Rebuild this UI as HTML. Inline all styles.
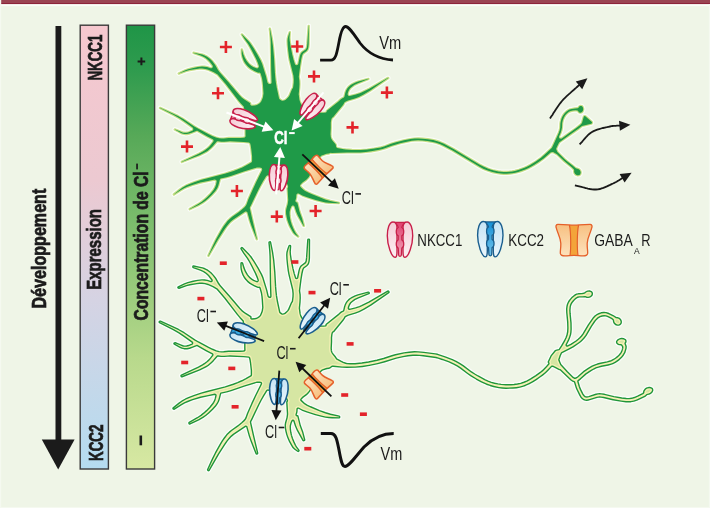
<!DOCTYPE html>
<html><head><meta charset="utf-8"><style>
html,body{margin:0;padding:0;background:#eff5e7;}
body{width:710px;height:508px;overflow:hidden;position:relative;font-family:"Liberation Sans",sans-serif;}
svg{position:absolute;left:0;top:0;will-change:transform;}
</style></head><body>
<svg width="710" height="508" viewBox="0 0 710 508">
<g opacity="0.999"><defs>
<linearGradient id="nk_g" x1="0" y1="0" x2="0" y2="1"><stop offset="0" stop-color="#f5ccd6"/><stop offset="1" stop-color="#fdf0f3"/></linearGradient>
<linearGradient id="kc_g" x1="0" y1="0" x2="0" y2="1"><stop offset="0" stop-color="#c6e4f5"/><stop offset="1" stop-color="#eaf6fc"/></linearGradient>
<linearGradient id="nk_c" x1="0" y1="0" x2="0" y2="1"><stop offset="0" stop-color="#e0416f"/><stop offset="1" stop-color="#f3a6bd"/></linearGradient>
<linearGradient id="kc_c" x1="0" y1="0" x2="0" y2="1"><stop offset="0" stop-color="#1590d6"/><stop offset="1" stop-color="#72c3ec"/></linearGradient>
<linearGradient id="nk_cN" x1="0" y1="0" x2="0" y2="1"><stop offset="0" stop-color="#f3b8c8"/><stop offset="1" stop-color="#f9dde5"/></linearGradient>
<linearGradient id="kc_cN" x1="0" y1="0" x2="0" y2="1"><stop offset="0" stop-color="#2aa6e6"/><stop offset="1" stop-color="#5cc0ef"/></linearGradient>
<linearGradient id="gab_g" gradientUnits="userSpaceOnUse" x1="0" y1="-16" x2="0" y2="16"><stop offset="0" stop-color="#f7c081"/><stop offset="1" stop-color="#fde2bd"/></linearGradient>
<linearGradient id="bar1" x1="0" y1="0" x2="0" y2="1"><stop offset="0" stop-color="#f6c8cf"/><stop offset="0.35" stop-color="#ecc9d1"/><stop offset="0.62" stop-color="#d5d3e3"/><stop offset="1" stop-color="#b4dcf0"/></linearGradient>
<linearGradient id="bar2" x1="0" y1="0" x2="0" y2="1"><stop offset="0" stop-color="#1f9547"/><stop offset="0.1" stop-color="#2f9b4e"/><stop offset="0.25" stop-color="#57a958"/><stop offset="0.5" stop-color="#86c272"/><stop offset="0.75" stop-color="#b8d98c"/><stop offset="1" stop-color="#d7e8a3"/></linearGradient>
<g id="nk"><path d="M-7,-17.8C-10.8,-17.8-12.7,-11-12.7,-4C-12.7,5-8.5,17.6-4.8,17.6C-3.4,17.6-3,15-3,12L-3,-12C-3,-15.5-3.6,-17.8-7,-17.8Z" fill="url(#nk_g)" stroke="#c8204a" stroke-width="1.40"/><path d="M-7,-17.8C-10.8,-17.8-12.7,-11-12.7,-4C-12.7,5-8.5,17.6-4.8,17.6C-3.4,17.6-3,15-3,12L-3,-12C-3,-15.5-3.6,-17.8-7,-17.8Z" transform="scale(-1,1)" fill="url(#nk_g)" stroke="#c8204a" stroke-width="1.40"/><path d="M-4.8,-17.4L4.8,-17.4C3,-15 1.8,-13.5 1.8,-12.3C4.4,-11.3 4.4,-5 1.8,-4C1.8,-2 1.8,-1 1.8,0C4.4,1 4.4,7.3 1.8,8.3L1.4,15C1.4,17-1.4,17-1.4,15L-1.8,8.3C-4.4,7.3-4.4,1-1.8,0C-1.8,-1-1.8,-2-1.8,-4C-4.4,-5-4.4,-11.3-1.8,-12.3C-1.8,-13.5-3,-15-4.8,-17.4Z" fill="url(#nk_c)" stroke="#c8204a" stroke-width="1.26"/></g><g id="kc"><path d="M-7,-17.8C-10.8,-17.8-12.7,-11-12.7,-4C-12.7,5-8.5,17.6-4.8,17.6C-3.4,17.6-3,15-3,12L-3,-12C-3,-15.5-3.6,-17.8-7,-17.8Z" fill="url(#kc_g)" stroke="#1a5e8e" stroke-width="1.40"/><path d="M-7,-17.8C-10.8,-17.8-12.7,-11-12.7,-4C-12.7,5-8.5,17.6-4.8,17.6C-3.4,17.6-3,15-3,12L-3,-12C-3,-15.5-3.6,-17.8-7,-17.8Z" transform="scale(-1,1)" fill="url(#kc_g)" stroke="#1a5e8e" stroke-width="1.40"/><path d="M-4.8,-17.4L4.8,-17.4C3,-15 1.8,-13.5 1.8,-12.3C4.4,-11.3 4.4,-5 1.8,-4C1.8,-2 1.8,-1 1.8,0C4.4,1 4.4,7.3 1.8,8.3L1.4,15C1.4,17-1.4,17-1.4,15L-1.8,8.3C-4.4,7.3-4.4,1-1.8,0C-1.8,-1-1.8,-2-1.8,-4C-4.4,-5-4.4,-11.3-1.8,-12.3C-1.8,-13.5-3,-15-4.8,-17.4Z" fill="url(#kc_c)" stroke="#1a5e8e" stroke-width="1.26"/></g><clipPath id="ga_clip"><path d="M-16,-15.8C-10,-15.8-5,-15.2 0,-15C5,-15.2 10,-15.8 16,-15.8C18,-15.8 18.3,-14 17.8,-12.5C16.5,-7 13.5,-3 13.2,3C13,8 14,11 13.6,13.5C13.2,15.5 11.5,15.7 9,15.7C5,15.5 2,15.2 0,15.2C-2,15.2-5,15.5-9,15.7C-11.5,15.7-13.2,15.5-13.6,13.5C-14,11-13,8-13.2,3C-13.5,-3-16.5,-7-17.8,-12.5C-18.3,-14-18,-15.8-16,-15.8Z"/></clipPath><g id="ga"><path d="M-16,-15.8C-10,-15.8-5,-15.2 0,-15C5,-15.2 10,-15.8 16,-15.8C18,-15.8 18.3,-14 17.8,-12.5C16.5,-7 13.5,-3 13.2,3C13,8 14,11 13.6,13.5C13.2,15.5 11.5,15.7 9,15.7C5,15.5 2,15.2 0,15.2C-2,15.2-5,15.5-9,15.7C-11.5,15.7-13.2,15.5-13.6,13.5C-14,11-13,8-13.2,3C-13.5,-3-16.5,-7-17.8,-12.5C-18.3,-14-18,-15.8-16,-15.8Z" fill="#f3a43a"/><g clip-path="url(#ga_clip)"><path d="M-30,-30L-4.6,-30L-4.6,-15.2C-3,-8-3,8-4,15.4L-4,30L-30,30Z" fill="url(#gab_g)"/><path d="M-30,-30L-4.6,-30L-4.6,-15.2C-3,-8-3,8-4,15.4L-4,30L-30,30Z" transform="scale(-1,1)" fill="url(#gab_g)"/></g><path d="M-4.6,-15.2C-3,-8-3,8-4,15.4" fill="none" stroke="#e5602a" stroke-width="1.17"/><path d="M-4.6,-15.2C-3,-8-3,8-4,15.4" transform="scale(-1,1)" fill="none" stroke="#e5602a" stroke-width="1.17"/><path d="M-16,-15.8C-10,-15.8-5,-15.2 0,-15C5,-15.2 10,-15.8 16,-15.8C18,-15.8 18.3,-14 17.8,-12.5C16.5,-7 13.5,-3 13.2,3C13,8 14,11 13.6,13.5C13.2,15.5 11.5,15.7 9,15.7C5,15.5 2,15.2 0,15.2C-2,15.2-5,15.5-9,15.7C-11.5,15.7-13.2,15.5-13.6,13.5C-14,11-13,8-13.2,3C-13.5,-3-16.5,-7-17.8,-12.5C-18.3,-14-18,-15.8-16,-15.8Z" fill="none" stroke="#e5602a" stroke-width="1.30"/></g><g id="nkN"><path d="M-7,-17.8C-10.8,-17.8-12.7,-11-12.7,-4C-12.7,5-8.5,17.6-4.8,17.6C-3.4,17.6-3,15-3,12L-3,-12C-3,-15.5-3.6,-17.8-7,-17.8Z" fill="url(#nk_g)" stroke="#c8204a" stroke-width="2.20"/><path d="M-7,-17.8C-10.8,-17.8-12.7,-11-12.7,-4C-12.7,5-8.5,17.6-4.8,17.6C-3.4,17.6-3,15-3,12L-3,-12C-3,-15.5-3.6,-17.8-7,-17.8Z" transform="scale(-1,1)" fill="url(#nk_g)" stroke="#c8204a" stroke-width="2.20"/><path d="M-4.8,-17.4L4.8,-17.4C3,-15 1.8,-13.5 1.8,-12.3C4.4,-11.3 4.4,-5 1.8,-4C1.8,-2 1.8,-1 1.8,0C4.4,1 4.4,7.3 1.8,8.3L1.4,15C1.4,17-1.4,17-1.4,15L-1.8,8.3C-4.4,7.3-4.4,1-1.8,0C-1.8,-1-1.8,-2-1.8,-4C-4.4,-5-4.4,-11.3-1.8,-12.3C-1.8,-13.5-3,-15-4.8,-17.4Z" fill="url(#nk_cN)" stroke="#c8204a" stroke-width="1.98"/></g><g id="kcN"><path d="M-7,-17.8C-10.8,-17.8-12.7,-11-12.7,-4C-12.7,5-8.5,17.6-4.8,17.6C-3.4,17.6-3,15-3,12L-3,-12C-3,-15.5-3.6,-17.8-7,-17.8Z" fill="url(#kc_g)" stroke="#1a5e8e" stroke-width="2.20"/><path d="M-7,-17.8C-10.8,-17.8-12.7,-11-12.7,-4C-12.7,5-8.5,17.6-4.8,17.6C-3.4,17.6-3,15-3,12L-3,-12C-3,-15.5-3.6,-17.8-7,-17.8Z" transform="scale(-1,1)" fill="url(#kc_g)" stroke="#1a5e8e" stroke-width="2.20"/><path d="M-4.8,-17.4L4.8,-17.4C3,-15 1.8,-13.5 1.8,-12.3C4.4,-11.3 4.4,-5 1.8,-4C1.8,-2 1.8,-1 1.8,0C4.4,1 4.4,7.3 1.8,8.3L1.4,15C1.4,17-1.4,17-1.4,15L-1.8,8.3C-4.4,7.3-4.4,1-1.8,0C-1.8,-1-1.8,-2-1.8,-4C-4.4,-5-4.4,-11.3-1.8,-12.3C-1.8,-13.5-3,-15-4.8,-17.4Z" fill="url(#kc_cN)" stroke="#1a5e8e" stroke-width="1.98"/></g><clipPath id="gaN_clip"><path d="M-16,-15.8C-10,-15.8-5,-15.2 0,-15C5,-15.2 10,-15.8 16,-15.8C18,-15.8 18.3,-14 17.8,-12.5C16.5,-7 13.5,-3 13.2,3C13,8 14,11 13.6,13.5C13.2,15.5 11.5,15.7 9,15.7C5,15.5 2,15.2 0,15.2C-2,15.2-5,15.5-9,15.7C-11.5,15.7-13.2,15.5-13.6,13.5C-14,11-13,8-13.2,3C-13.5,-3-16.5,-7-17.8,-12.5C-18.3,-14-18,-15.8-16,-15.8Z"/></clipPath><g id="gaN"><path d="M-16,-15.8C-10,-15.8-5,-15.2 0,-15C5,-15.2 10,-15.8 16,-15.8C18,-15.8 18.3,-14 17.8,-12.5C16.5,-7 13.5,-3 13.2,3C13,8 14,11 13.6,13.5C13.2,15.5 11.5,15.7 9,15.7C5,15.5 2,15.2 0,15.2C-2,15.2-5,15.5-9,15.7C-11.5,15.7-13.2,15.5-13.6,13.5C-14,11-13,8-13.2,3C-13.5,-3-16.5,-7-17.8,-12.5C-18.3,-14-18,-15.8-16,-15.8Z" fill="#f3a43a"/><g clip-path="url(#gaN_clip)"><path d="M-30,-30L-4.6,-30L-4.6,-15.2C-3,-8-3,8-4,15.4L-4,30L-30,30Z" fill="url(#gab_g)"/><path d="M-30,-30L-4.6,-30L-4.6,-15.2C-3,-8-3,8-4,15.4L-4,30L-30,30Z" transform="scale(-1,1)" fill="url(#gab_g)"/></g><path d="M-4.6,-15.2C-3,-8-3,8-4,15.4" fill="none" stroke="#e5602a" stroke-width="1.98"/><path d="M-4.6,-15.2C-3,-8-3,8-4,15.4" transform="scale(-1,1)" fill="none" stroke="#e5602a" stroke-width="1.98"/><path d="M-16,-15.8C-10,-15.8-5,-15.2 0,-15C5,-15.2 10,-15.8 16,-15.8C18,-15.8 18.3,-14 17.8,-12.5C16.5,-7 13.5,-3 13.2,3C13,8 14,11 13.6,13.5C13.2,15.5 11.5,15.7 9,15.7C5,15.5 2,15.2 0,15.2C-2,15.2-5,15.5-9,15.7C-11.5,15.7-13.2,15.5-13.6,13.5C-14,11-13,8-13.2,3C-13.5,-3-16.5,-7-17.8,-12.5C-18.3,-14-18,-15.8-16,-15.8Z" fill="none" stroke="#e5602a" stroke-width="2.20"/></g></defs>
<rect x="0" y="0" width="710" height="4.2" fill="#9a4452"/><rect x="0" y="3.1" width="710" height="1.1" fill="#8c2238"/><rect x="0" y="4.2" width="710" height="1.9" fill="#fbfdf8"/><rect x="0" y="0" width="1.2" height="508" fill="#f5f9f0"/><rect x="708.9" y="4.2" width="1.1" height="504" fill="#f5f9f0"/><rect x="0" y="507" width="710" height="1" fill="#f5f9f0"/>
<rect x="80.2" y="25.2" width="28.2" height="443.8" fill="url(#bar1)" stroke="#3a3a3a" stroke-width="1.4"/>
<rect x="126.4" y="25.2" width="28.2" height="443.8" fill="url(#bar2)" stroke="#3a3a3a" stroke-width="1.4"/>
<rect x="55.5" y="26" width="5.8" height="416" fill="#1b1b1b"/>
<path d="M41.8,439.4 L74.6,439.4 L58.2,469.6 Z" fill="#1b1b1b"/>
<text transform="translate(45.8,308.5) rotate(-90)" x="0" y="0" font-family="&quot;Liberation Sans&quot;, sans-serif" font-size="19.5" font-weight="bold" fill="#1b1b1b" stroke="#1b1b1b" stroke-width="0.7" textLength="119.8" lengthAdjust="spacingAndGlyphs">Développement</text>
<text transform="translate(100.7,289.7) rotate(-90)" x="0" y="0" font-family="&quot;Liberation Sans&quot;, sans-serif" font-size="19.5" font-weight="bold" fill="#1b1b1b" stroke="#1b1b1b" stroke-width="0.7" textLength="80.6" lengthAdjust="spacingAndGlyphs">Expression</text>
<text transform="translate(147.6,320.4) rotate(-90)" x="0" y="0" font-family="&quot;Liberation Sans&quot;, sans-serif" font-size="19.5" font-weight="bold" fill="#1b1b1b" stroke="#1b1b1b" stroke-width="0.7" textLength="149.1" lengthAdjust="spacingAndGlyphs">Concentration de Cl</text>
<rect x="136.2" y="163.6" width="1.7" height="5.8" fill="#1b1b1b"/>
<text transform="translate(102.1,80.6) rotate(-90)" x="0" y="0" font-family="&quot;Liberation Sans&quot;, sans-serif" font-size="19.5" font-weight="bold" fill="#1b1b1b" stroke="#1b1b1b" stroke-width="0.7" textLength="46.0" lengthAdjust="spacingAndGlyphs">NKCC1</text>
<text transform="translate(102.6,461.0) rotate(-90)" x="0" y="0" font-family="&quot;Liberation Sans&quot;, sans-serif" font-size="19.5" font-weight="bold" fill="#1b1b1b" stroke="#1b1b1b" stroke-width="0.7" textLength="36.4" lengthAdjust="spacingAndGlyphs">KCC2</text>
<path d="M137.6,61.4h7.6M141.4,57.6v7.6" stroke="#1b1b1b" stroke-width="2"/>
<rect x="139.5" y="435.5" width="2.6" height="9.8" fill="#1b1b1b"/>
<g fill="#ffffff" stroke="#ffffff" stroke-width="4.6" stroke-linejoin="round" opacity="0.75"><path d="M159.9,108.0 173.7,115.1 179.4,118.3 184.6,121.8 192.6,127.6 193.1,128.2 193.3,129.0 193.3,129.5 193.1,130.0 192.7,130.5 192.3,130.7 188.8,132.2 186.8,132.7 185.5,132.8 183.6,132.7 182.4,132.4 180.3,131.6 175.9,129.7 174.9,129.4 174.7,129.6 180.0,132.4 182.1,133.4 184.3,134.0 185.5,134.1 186.9,134.1 189.3,133.6 191.7,132.7 196.2,130.9 196.7,130.8 197.3,130.8 206.9,136.3 212.7,139.3 213.1,139.6 213.4,140.1 213.6,140.8 213.4,141.6 211.1,144.6 209.0,146.9 207.7,148.0 204.8,150.3 202.9,151.5 198.8,153.8 181.7,161.8 181.8,162.1 199.4,155.2 203.9,153.1 205.8,152.1 207.6,150.9 210.5,148.5 212.8,146.2 216.6,141.8 217.4,141.3 218.1,141.3 221.4,141.7 224.1,141.7 227.7,141.4 230.0,141.3 243.7,141.9 249.0,142.4 249.7,142.9 250.2,143.6 250.7,145.6 251.2,148.7 252.1,156.4 252.1,161.1 251.8,161.9 251.2,162.4 246.4,165.3 242.2,167.4 237.9,169.3 233.6,170.9 225.5,173.6 207.4,178.2 201.5,179.8 194.8,182.0 190.2,183.7 186.0,185.6 182.2,187.8 179.9,189.4 173.7,194.4 173.9,194.6 180.6,190.3 184.1,188.3 188.0,186.6 192.3,185.0 200.3,182.6 208.1,180.9 214.7,179.6 215.4,179.7 216.2,180.1 216.6,180.9 216.7,181.6 216.1,184.3 215.4,186.6 214.3,188.7 213.5,189.9 210.5,193.7 206.8,197.4 204.2,199.7 201.8,201.7 197.8,204.3 189.6,209.0 189.7,209.3 198.3,205.2 202.5,202.8 205.2,200.9 207.9,198.7 211.8,195.0 215.2,191.3 216.9,188.7 217.6,187.4 218.5,185.0 219.9,179.4 220.3,178.8 220.7,178.5 226.5,177.2 230.8,175.9 243.8,171.5 256.9,167.5 259.6,167.6 260.8,167.7 261.6,168.1 262.1,168.9 262.2,169.6 262.0,170.3 256.3,181.8 252.6,189.7 248.3,199.5 246.7,204.0 246.1,205.2 244.8,206.9 242.5,209.0 238.3,212.5 232.5,216.6 229.9,218.7 227.5,221.1 225.3,223.9 223.1,227.1 221.0,230.5 216.1,239.3 213.4,244.7 208.3,255.8 208.5,256.0 217.7,240.1 224.1,230.1 226.2,226.9 228.4,224.2 230.6,221.8 233.0,219.8 245.3,211.6 246.0,211.5 246.7,211.8 247.2,212.1 247.5,212.7 249.9,221.2 251.5,225.9 256.7,239.3 257.0,239.3 252.9,222.1 249.8,208.3 249.8,207.6 251.0,205.3 258.1,190.4 260.4,185.9 262.9,181.6 266.3,176.1 267.1,175.5 268.1,175.3 269.9,176.0 271.4,176.3 278.3,176.6 280.1,176.9 281.6,177.3 283.1,178.1 284.2,179.1 285.3,180.7 286.3,182.3 288.0,185.9 288.1,186.6 288.0,187.4 287.5,188.1 288.2,199.3 288.2,200.5 287.7,204.1 286.3,208.9 286.0,210.9 286.1,214.0 286.7,217.2 287.5,220.4 288.6,223.5 290.0,226.8 292.2,230.8 293.2,232.5 294.3,233.8 295.3,234.7 298.1,236.7 298.3,236.5 295.8,233.3 294.8,231.6 293.1,227.9 291.8,224.7 290.8,221.6 290.1,218.6 289.7,215.7 289.6,213.7 289.6,212.0 289.9,210.5 290.5,208.4 291.4,206.5 291.8,205.9 292.5,205.6 293.2,205.6 293.8,205.8 294.3,206.2 294.6,206.7 296.2,211.7 297.8,215.5 303.6,226.0 304.0,225.9 302.1,218.6 299.5,211.5 297.3,202.5 296.6,202.4 296.0,202.1 295.6,201.7 295.4,201.1 295.4,200.4 296.0,198.5 296.2,197.5 296.4,194.7 296.7,194.2 297.0,193.8 297.8,193.4 298.7,193.4 302.3,195.4 307.1,197.2 315.6,199.9 322.4,201.7 325.6,202.4 328.9,202.8 332.3,203.0 339.0,203.2 339.0,202.8 330.3,200.9 325.2,199.4 320.3,197.6 311.5,194.0 307.7,192.2 304.8,190.7 302.7,188.9 300.6,186.9 300.2,186.3 300.1,185.6 300.2,185.1 301.1,183.9 302.5,182.6 306.3,179.8 308.0,178.0 308.8,177.0 310.3,174.6 314.0,168.0 317.7,160.6 319.2,158.1 320.1,156.9 320.9,156.1 321.7,155.6 323.2,154.9 326.6,153.8 328.9,153.6 330.2,152.9 330.7,152.8 331.8,153.0 347.0,152.4 360.6,152.4 365.8,152.0 371.1,151.3 378.1,150.1 382.7,149.0 385.5,148.1 391.8,145.7 394.4,144.9 400.1,143.3 405.8,141.9 411.7,140.7 414.7,140.4 418.0,140.3 422.4,140.5 427.6,141.1 432.8,141.9 436.1,142.7 440.4,144.3 444.5,146.2 452.6,150.5 475.9,164.6 480.0,167.0 483.7,168.9 488.4,170.8 492.6,172.1 496.7,173.0 500.9,173.6 503.8,173.8 506.7,173.8 509.6,173.6 512.5,173.2 515.3,172.7 518.2,172.0 521.0,171.1 525.3,169.5 528.1,168.2 531.0,166.7 534.0,165.1 538.3,162.3 543.7,158.4 550.6,152.5 551.3,152.2 553.0,152.1 553.5,152.3 557.0,154.2 564.2,161.1 572.0,167.5 574.0,169.6 574.2,170.3 574.1,171.5 574.3,172.4 574.5,173.1 575.1,173.9 575.8,174.6 576.5,175.0 577.4,175.3 578.3,175.3 579.2,175.1 579.8,174.7 580.3,174.1 580.5,173.5 580.7,172.5 580.5,171.6 580.3,170.9 579.7,170.1 579.0,169.4 578.3,169.0 577.4,168.7 576.5,168.6 575.8,168.3 572.3,165.3 567.1,161.3 564.5,159.1 557.4,152.0 556.3,149.6 556.2,148.6 558.1,144.4 559.1,142.6 559.5,142.2 569.1,135.3 578.4,128.8 582.0,126.0 591.1,123.7 591.7,123.4 592.0,122.6 591.9,122.1 591.6,121.7 585.6,116.4 584.9,116.1 584.2,116.2 583.9,116.6 583.7,116.9 582.0,122.9 580.2,124.9 576.2,128.1 561.8,138.4 561.0,138.7 560.0,138.6 559.4,138.2 559.1,137.7 559.0,137.2 559.0,136.5 560.6,132.9 561.5,130.1 562.0,127.5 562.2,122.9 562.8,120.2 564.0,117.3 565.4,115.1 567.1,113.2 568.9,111.8 570.7,111.1 572.7,110.6 575.7,110.2 577.2,110.4 578.0,110.8 578.7,111.9 579.3,112.4 580.2,112.7 581.1,112.5 582.0,112.0 582.8,111.0 583.2,109.8 583.2,108.5 582.8,107.3 582.3,106.5 581.5,106.0 580.6,105.9 580.0,106.1 579.4,106.5 578.2,107.9 577.6,108.2 575.2,108.4 571.7,109.1 569.5,109.6 568.2,110.3 566.5,111.5 564.9,113.0 563.2,115.2 562.2,117.1 561.4,119.0 560.7,121.8 560.4,123.4 560.2,128.0 559.6,130.6 558.6,133.2 554.3,142.7 552.2,147.2 551.7,148.0 544.7,154.6 541.0,157.8 535.7,161.6 530.1,165.0 527.3,166.5 524.5,167.7 519.0,169.8 514.9,170.9 512.2,171.4 509.4,171.7 506.7,171.9 503.9,171.9 501.1,171.7 498.4,171.4 493.0,170.3 490.4,169.5 487.7,168.5 482.8,166.3 478.9,164.2 453.6,148.9 443.9,143.8 439.6,141.9 436.5,140.9 433.2,140.1 427.8,139.2 422.5,138.7 418.1,138.4 414.6,138.5 410.4,139.1 403.9,140.3 395.2,142.5 391.1,143.8 384.8,146.2 380.8,147.4 374.3,148.6 367.3,149.6 360.5,150.0 352.0,149.9 345.5,149.4 342.4,149.0 337.2,148.0 336.6,147.6 336.2,147.1 336.0,146.6 335.9,145.1 335.4,144.1 332.2,140.2 331.5,139.1 331.0,138.0 330.8,136.9 330.5,134.3 330.8,128.0 330.8,122.5 331.2,120.1 331.5,118.9 332.0,117.8 332.6,117.4 333.2,117.1 342.8,105.3 343.7,103.9 344.2,102.8 345.0,102.0 346.9,101.0 348.1,100.5 354.9,98.4 358.9,96.9 363.2,94.8 370.3,90.5 388.3,78.1 388.1,77.8 369.2,88.7 362.0,92.3 359.8,93.2 355.8,94.6 349.8,96.0 348.9,95.9 348.2,95.5 347.7,94.7 347.6,94.0 347.9,92.8 348.5,91.1 349.3,89.6 350.2,88.3 351.4,87.2 354.2,85.1 357.4,83.5 368.5,79.0 368.4,78.8 358.2,81.6 355.5,82.6 352.5,84.0 350.7,85.1 349.3,86.2 348.0,87.6 346.9,89.1 345.9,91.1 345.2,93.2 344.4,96.7 343.9,97.4 342.0,98.4 340.6,99.4 338.5,101.4 326.8,110.8 326.6,111.8 326.3,112.3 325.7,112.6 323.5,112.8 320.7,112.7 317.8,112.4 315.0,111.8 312.4,111.0 309.6,109.9 306.8,108.6 304.3,107.1 302.0,105.2 301.0,104.0 300.3,102.6 299.8,101.1 299.4,99.5 298.7,94.2 299.3,88.0 299.5,84.0 299.4,80.8 298.8,76.7 300.2,65.7 301.3,59.1 302.0,56.1 302.6,54.4 303.2,53.5 306.3,51.2 307.5,49.8 307.9,48.9 308.4,47.0 308.7,43.8 308.8,32.0 308.8,25.8 308.6,25.8 307.3,43.7 307.1,45.8 306.8,47.5 306.4,48.4 305.7,49.4 302.1,52.1 301.4,52.8 300.9,53.6 300.4,54.6 299.8,56.6 298.3,63.9 297.8,64.7 297.1,65.1 296.6,65.2 295.9,65.1 295.3,64.7 294.9,64.1 293.5,59.6 292.3,54.8 290.6,46.6 289.7,40.6 289.5,37.7 289.9,32.1 289.7,32.1 288.4,35.8 287.7,38.4 287.5,40.8 287.7,45.2 288.2,50.4 289.0,56.8 289.7,60.5 293.4,75.6 293.8,79.5 293.7,82.7 293.1,87.6 291.9,89.5 289.2,95.9 288.4,97.1 287.0,98.6 285.4,99.9 284.0,100.6 282.8,100.8 282.1,100.8 281.4,100.5 279.9,99.4 279.1,98.5 276.8,87.9 275.8,82.0 275.3,77.6 274.9,72.9 274.1,58.5 273.0,46.3 271.8,38.0 269.9,28.5 269.7,28.6 270.5,36.9 270.8,42.2 271.2,70.5 271.6,82.3 271.5,82.9 271.2,83.4 270.9,83.8 270.2,84.1 269.5,84.1 268.9,83.9 267.8,82.9 267.4,82.3 266.0,76.3 262.2,63.9 260.7,60.4 257.3,54.2 253.2,47.5 250.1,42.9 248.7,41.3 241.9,34.3 241.7,34.5 244.5,38.9 248.3,44.2 250.2,47.4 252.7,52.2 256.2,59.1 257.9,63.1 258.9,66.1 258.9,66.7 258.7,67.3 258.0,68.1 257.2,68.4 256.5,68.3 254.6,67.6 253.3,67.0 251.6,66.0 250.0,64.7 248.5,63.3 246.7,61.0 244.8,57.7 243.4,54.4 241.9,49.4 241.7,49.4 241.7,53.4 242.0,55.5 242.6,57.8 243.8,60.9 245.0,63.1 246.5,65.1 248.1,66.8 250.5,68.8 252.6,70.1 254.8,71.2 258.3,72.7 259.3,72.6 259.8,72.7 260.2,73.1 260.7,73.8 262.1,78.6 262.7,82.4 263.0,85.5 263.5,93.6 263.2,95.5 263.0,96.9 262.4,98.8 261.2,101.5 260.0,103.0 259.0,103.8 257.8,104.4 256.1,105.2 254.7,105.5 251.9,105.7 251.2,105.6 250.8,105.3 250.3,104.7 250.2,104.0 250.3,103.3 244.8,99.8 242.0,97.7 239.1,94.7 228.3,81.9 219.9,72.5 218.0,69.9 215.2,64.9 212.6,61.6 210.4,59.3 208.6,57.8 206.7,56.5 204.6,55.4 202.3,54.6 199.8,54.0 193.5,52.7 193.5,52.9 200.7,55.5 202.9,56.4 204.8,57.5 206.5,58.7 208.0,60.1 209.5,61.6 212.6,65.6 212.8,66.3 212.8,66.8 212.5,67.4 212.1,68.0 211.4,68.2 210.7,68.3 207.0,67.1 204.5,66.7 202.0,66.6 197.8,67.1 193.4,67.9 188.1,69.3 184.8,70.5 178.6,73.4 178.8,73.6 186.2,71.0 189.7,70.1 196.6,68.9 199.5,68.6 202.1,68.6 205.3,68.9 208.3,69.8 213.8,72.2 217.6,74.5 225.7,84.1 238.1,100.2 240.6,103.2 243.7,106.5 244.0,107.3 243.9,108.3 244.0,108.5 245.1,109.4 245.6,110.2 246.0,111.9 246.0,113.7 245.5,128.2 245.5,134.2 245.6,135.9 245.4,136.7 244.7,137.5 243.6,137.7 240.5,137.9 228.7,137.9 223.8,138.5 221.6,138.6 218.9,138.3 216.0,137.5 212.2,135.9 208.2,134.0 198.0,128.6 194.3,126.4 183.7,119.3 178.1,116.1 172.2,113.2 160.1,107.8Z"/></g>
<g fill="#c5de84" stroke="#c5de84" stroke-width="2.2" stroke-linejoin="round"><path d="M159.9,108.0 173.7,115.1 179.4,118.3 184.6,121.8 192.6,127.6 193.1,128.2 193.3,129.0 193.3,129.5 193.1,130.0 192.7,130.5 192.3,130.7 188.8,132.2 186.8,132.7 185.5,132.8 183.6,132.7 182.4,132.4 180.3,131.6 175.9,129.7 174.9,129.4 174.7,129.6 180.0,132.4 182.1,133.4 184.3,134.0 185.5,134.1 186.9,134.1 189.3,133.6 191.7,132.7 196.2,130.9 196.7,130.8 197.3,130.8 206.9,136.3 212.7,139.3 213.1,139.6 213.4,140.1 213.6,140.8 213.4,141.6 211.1,144.6 209.0,146.9 207.7,148.0 204.8,150.3 202.9,151.5 198.8,153.8 181.7,161.8 181.8,162.1 199.4,155.2 203.9,153.1 205.8,152.1 207.6,150.9 210.5,148.5 212.8,146.2 216.6,141.8 217.4,141.3 218.1,141.3 221.4,141.7 224.1,141.7 227.7,141.4 230.0,141.3 243.7,141.9 249.0,142.4 249.7,142.9 250.2,143.6 250.7,145.6 251.2,148.7 252.1,156.4 252.1,161.1 251.8,161.9 251.2,162.4 246.4,165.3 242.2,167.4 237.9,169.3 233.6,170.9 225.5,173.6 207.4,178.2 201.5,179.8 194.8,182.0 190.2,183.7 186.0,185.6 182.2,187.8 179.9,189.4 173.7,194.4 173.9,194.6 180.6,190.3 184.1,188.3 188.0,186.6 192.3,185.0 200.3,182.6 208.1,180.9 214.7,179.6 215.4,179.7 216.2,180.1 216.6,180.9 216.7,181.6 216.1,184.3 215.4,186.6 214.3,188.7 213.5,189.9 210.5,193.7 206.8,197.4 204.2,199.7 201.8,201.7 197.8,204.3 189.6,209.0 189.7,209.3 198.3,205.2 202.5,202.8 205.2,200.9 207.9,198.7 211.8,195.0 215.2,191.3 216.9,188.7 217.6,187.4 218.5,185.0 219.9,179.4 220.3,178.8 220.7,178.5 226.5,177.2 230.8,175.9 243.8,171.5 256.9,167.5 259.6,167.6 260.8,167.7 261.6,168.1 262.1,168.9 262.2,169.6 262.0,170.3 256.3,181.8 252.6,189.7 248.3,199.5 246.7,204.0 246.1,205.2 244.8,206.9 242.5,209.0 238.3,212.5 232.5,216.6 229.9,218.7 227.5,221.1 225.3,223.9 223.1,227.1 221.0,230.5 216.1,239.3 213.4,244.7 208.3,255.8 208.5,256.0 217.7,240.1 224.1,230.1 226.2,226.9 228.4,224.2 230.6,221.8 233.0,219.8 245.3,211.6 246.0,211.5 246.7,211.8 247.2,212.1 247.5,212.7 249.9,221.2 251.5,225.9 256.7,239.3 257.0,239.3 252.9,222.1 249.8,208.3 249.8,207.6 251.0,205.3 258.1,190.4 260.4,185.9 262.9,181.6 266.3,176.1 267.1,175.5 268.1,175.3 269.9,176.0 271.4,176.3 278.3,176.6 280.1,176.9 281.6,177.3 283.1,178.1 284.2,179.1 285.3,180.7 286.3,182.3 288.0,185.9 288.1,186.6 288.0,187.4 287.5,188.1 288.2,199.3 288.2,200.5 287.7,204.1 286.3,208.9 286.0,210.9 286.1,214.0 286.7,217.2 287.5,220.4 288.6,223.5 290.0,226.8 292.2,230.8 293.2,232.5 294.3,233.8 295.3,234.7 298.1,236.7 298.3,236.5 295.8,233.3 294.8,231.6 293.1,227.9 291.8,224.7 290.8,221.6 290.1,218.6 289.7,215.7 289.6,213.7 289.6,212.0 289.9,210.5 290.5,208.4 291.4,206.5 291.8,205.9 292.5,205.6 293.2,205.6 293.8,205.8 294.3,206.2 294.6,206.7 296.2,211.7 297.8,215.5 303.6,226.0 304.0,225.9 302.1,218.6 299.5,211.5 297.3,202.5 296.6,202.4 296.0,202.1 295.6,201.7 295.4,201.1 295.4,200.4 296.0,198.5 296.2,197.5 296.4,194.7 296.7,194.2 297.0,193.8 297.8,193.4 298.7,193.4 302.3,195.4 307.1,197.2 315.6,199.9 322.4,201.7 325.6,202.4 328.9,202.8 332.3,203.0 339.0,203.2 339.0,202.8 330.3,200.9 325.2,199.4 320.3,197.6 311.5,194.0 307.7,192.2 304.8,190.7 302.7,188.9 300.6,186.9 300.2,186.3 300.1,185.6 300.2,185.1 301.1,183.9 302.5,182.6 306.3,179.8 308.0,178.0 308.8,177.0 310.3,174.6 314.0,168.0 317.7,160.6 319.2,158.1 320.1,156.9 320.9,156.1 321.7,155.6 323.2,154.9 326.6,153.8 328.9,153.6 330.2,152.9 330.7,152.8 331.8,153.0 347.0,152.4 360.6,152.4 365.8,152.0 371.1,151.3 378.1,150.1 382.7,149.0 385.5,148.1 391.8,145.7 394.4,144.9 400.1,143.3 405.8,141.9 411.7,140.7 414.7,140.4 418.0,140.3 422.4,140.5 427.6,141.1 432.8,141.9 436.1,142.7 440.4,144.3 444.5,146.2 452.6,150.5 475.9,164.6 480.0,167.0 483.7,168.9 488.4,170.8 492.6,172.1 496.7,173.0 500.9,173.6 503.8,173.8 506.7,173.8 509.6,173.6 512.5,173.2 515.3,172.7 518.2,172.0 521.0,171.1 525.3,169.5 528.1,168.2 531.0,166.7 534.0,165.1 538.3,162.3 543.7,158.4 550.6,152.5 551.3,152.2 553.0,152.1 553.5,152.3 557.0,154.2 564.2,161.1 572.0,167.5 574.0,169.6 574.2,170.3 574.1,171.5 574.3,172.4 574.5,173.1 575.1,173.9 575.8,174.6 576.5,175.0 577.4,175.3 578.3,175.3 579.2,175.1 579.8,174.7 580.3,174.1 580.5,173.5 580.7,172.5 580.5,171.6 580.3,170.9 579.7,170.1 579.0,169.4 578.3,169.0 577.4,168.7 576.5,168.6 575.8,168.3 572.3,165.3 567.1,161.3 564.5,159.1 557.4,152.0 556.3,149.6 556.2,148.6 558.1,144.4 559.1,142.6 559.5,142.2 569.1,135.3 578.4,128.8 582.0,126.0 591.1,123.7 591.7,123.4 592.0,122.6 591.9,122.1 591.6,121.7 585.6,116.4 584.9,116.1 584.2,116.2 583.9,116.6 583.7,116.9 582.0,122.9 580.2,124.9 576.2,128.1 561.8,138.4 561.0,138.7 560.0,138.6 559.4,138.2 559.1,137.7 559.0,137.2 559.0,136.5 560.6,132.9 561.5,130.1 562.0,127.5 562.2,122.9 562.8,120.2 564.0,117.3 565.4,115.1 567.1,113.2 568.9,111.8 570.7,111.1 572.7,110.6 575.7,110.2 577.2,110.4 578.0,110.8 578.7,111.9 579.3,112.4 580.2,112.7 581.1,112.5 582.0,112.0 582.8,111.0 583.2,109.8 583.2,108.5 582.8,107.3 582.3,106.5 581.5,106.0 580.6,105.9 580.0,106.1 579.4,106.5 578.2,107.9 577.6,108.2 575.2,108.4 571.7,109.1 569.5,109.6 568.2,110.3 566.5,111.5 564.9,113.0 563.2,115.2 562.2,117.1 561.4,119.0 560.7,121.8 560.4,123.4 560.2,128.0 559.6,130.6 558.6,133.2 554.3,142.7 552.2,147.2 551.7,148.0 544.7,154.6 541.0,157.8 535.7,161.6 530.1,165.0 527.3,166.5 524.5,167.7 519.0,169.8 514.9,170.9 512.2,171.4 509.4,171.7 506.7,171.9 503.9,171.9 501.1,171.7 498.4,171.4 493.0,170.3 490.4,169.5 487.7,168.5 482.8,166.3 478.9,164.2 453.6,148.9 443.9,143.8 439.6,141.9 436.5,140.9 433.2,140.1 427.8,139.2 422.5,138.7 418.1,138.4 414.6,138.5 410.4,139.1 403.9,140.3 395.2,142.5 391.1,143.8 384.8,146.2 380.8,147.4 374.3,148.6 367.3,149.6 360.5,150.0 352.0,149.9 345.5,149.4 342.4,149.0 337.2,148.0 336.6,147.6 336.2,147.1 336.0,146.6 335.9,145.1 335.4,144.1 332.2,140.2 331.5,139.1 331.0,138.0 330.8,136.9 330.5,134.3 330.8,128.0 330.8,122.5 331.2,120.1 331.5,118.9 332.0,117.8 332.6,117.4 333.2,117.1 342.8,105.3 343.7,103.9 344.2,102.8 345.0,102.0 346.9,101.0 348.1,100.5 354.9,98.4 358.9,96.9 363.2,94.8 370.3,90.5 388.3,78.1 388.1,77.8 369.2,88.7 362.0,92.3 359.8,93.2 355.8,94.6 349.8,96.0 348.9,95.9 348.2,95.5 347.7,94.7 347.6,94.0 347.9,92.8 348.5,91.1 349.3,89.6 350.2,88.3 351.4,87.2 354.2,85.1 357.4,83.5 368.5,79.0 368.4,78.8 358.2,81.6 355.5,82.6 352.5,84.0 350.7,85.1 349.3,86.2 348.0,87.6 346.9,89.1 345.9,91.1 345.2,93.2 344.4,96.7 343.9,97.4 342.0,98.4 340.6,99.4 338.5,101.4 326.8,110.8 326.6,111.8 326.3,112.3 325.7,112.6 323.5,112.8 320.7,112.7 317.8,112.4 315.0,111.8 312.4,111.0 309.6,109.9 306.8,108.6 304.3,107.1 302.0,105.2 301.0,104.0 300.3,102.6 299.8,101.1 299.4,99.5 298.7,94.2 299.3,88.0 299.5,84.0 299.4,80.8 298.8,76.7 300.2,65.7 301.3,59.1 302.0,56.1 302.6,54.4 303.2,53.5 306.3,51.2 307.5,49.8 307.9,48.9 308.4,47.0 308.7,43.8 308.8,32.0 308.8,25.8 308.6,25.8 307.3,43.7 307.1,45.8 306.8,47.5 306.4,48.4 305.7,49.4 302.1,52.1 301.4,52.8 300.9,53.6 300.4,54.6 299.8,56.6 298.3,63.9 297.8,64.7 297.1,65.1 296.6,65.2 295.9,65.1 295.3,64.7 294.9,64.1 293.5,59.6 292.3,54.8 290.6,46.6 289.7,40.6 289.5,37.7 289.9,32.1 289.7,32.1 288.4,35.8 287.7,38.4 287.5,40.8 287.7,45.2 288.2,50.4 289.0,56.8 289.7,60.5 293.4,75.6 293.8,79.5 293.7,82.7 293.1,87.6 291.9,89.5 289.2,95.9 288.4,97.1 287.0,98.6 285.4,99.9 284.0,100.6 282.8,100.8 282.1,100.8 281.4,100.5 279.9,99.4 279.1,98.5 276.8,87.9 275.8,82.0 275.3,77.6 274.9,72.9 274.1,58.5 273.0,46.3 271.8,38.0 269.9,28.5 269.7,28.6 270.5,36.9 270.8,42.2 271.2,70.5 271.6,82.3 271.5,82.9 271.2,83.4 270.9,83.8 270.2,84.1 269.5,84.1 268.9,83.9 267.8,82.9 267.4,82.3 266.0,76.3 262.2,63.9 260.7,60.4 257.3,54.2 253.2,47.5 250.1,42.9 248.7,41.3 241.9,34.3 241.7,34.5 244.5,38.9 248.3,44.2 250.2,47.4 252.7,52.2 256.2,59.1 257.9,63.1 258.9,66.1 258.9,66.7 258.7,67.3 258.0,68.1 257.2,68.4 256.5,68.3 254.6,67.6 253.3,67.0 251.6,66.0 250.0,64.7 248.5,63.3 246.7,61.0 244.8,57.7 243.4,54.4 241.9,49.4 241.7,49.4 241.7,53.4 242.0,55.5 242.6,57.8 243.8,60.9 245.0,63.1 246.5,65.1 248.1,66.8 250.5,68.8 252.6,70.1 254.8,71.2 258.3,72.7 259.3,72.6 259.8,72.7 260.2,73.1 260.7,73.8 262.1,78.6 262.7,82.4 263.0,85.5 263.5,93.6 263.2,95.5 263.0,96.9 262.4,98.8 261.2,101.5 260.0,103.0 259.0,103.8 257.8,104.4 256.1,105.2 254.7,105.5 251.9,105.7 251.2,105.6 250.8,105.3 250.3,104.7 250.2,104.0 250.3,103.3 244.8,99.8 242.0,97.7 239.1,94.7 228.3,81.9 219.9,72.5 218.0,69.9 215.2,64.9 212.6,61.6 210.4,59.3 208.6,57.8 206.7,56.5 204.6,55.4 202.3,54.6 199.8,54.0 193.5,52.7 193.5,52.9 200.7,55.5 202.9,56.4 204.8,57.5 206.5,58.7 208.0,60.1 209.5,61.6 212.6,65.6 212.8,66.3 212.8,66.8 212.5,67.4 212.1,68.0 211.4,68.2 210.7,68.3 207.0,67.1 204.5,66.7 202.0,66.6 197.8,67.1 193.4,67.9 188.1,69.3 184.8,70.5 178.6,73.4 178.8,73.6 186.2,71.0 189.7,70.1 196.6,68.9 199.5,68.6 202.1,68.6 205.3,68.9 208.3,69.8 213.8,72.2 217.6,74.5 225.7,84.1 238.1,100.2 240.6,103.2 243.7,106.5 244.0,107.3 243.9,108.3 244.0,108.5 245.1,109.4 245.6,110.2 246.0,111.9 246.0,113.7 245.5,128.2 245.5,134.2 245.6,135.9 245.4,136.7 244.7,137.5 243.6,137.7 240.5,137.9 228.7,137.9 223.8,138.5 221.6,138.6 218.9,138.3 216.0,137.5 212.2,135.9 208.2,134.0 198.0,128.6 194.3,126.4 183.7,119.3 178.1,116.1 172.2,113.2 160.1,107.8Z"/></g>
<g fill="#1f9a48"><path d="M159.9,108.0 173.7,115.1 179.4,118.3 184.6,121.8 192.6,127.6 193.1,128.2 193.3,129.0 193.3,129.5 193.1,130.0 192.7,130.5 192.3,130.7 188.8,132.2 186.8,132.7 185.5,132.8 183.6,132.7 182.4,132.4 180.3,131.6 175.9,129.7 174.9,129.4 174.7,129.6 180.0,132.4 182.1,133.4 184.3,134.0 185.5,134.1 186.9,134.1 189.3,133.6 191.7,132.7 196.2,130.9 196.7,130.8 197.3,130.8 206.9,136.3 212.7,139.3 213.1,139.6 213.4,140.1 213.6,140.8 213.4,141.6 211.1,144.6 209.0,146.9 207.7,148.0 204.8,150.3 202.9,151.5 198.8,153.8 181.7,161.8 181.8,162.1 199.4,155.2 203.9,153.1 205.8,152.1 207.6,150.9 210.5,148.5 212.8,146.2 216.6,141.8 217.4,141.3 218.1,141.3 221.4,141.7 224.1,141.7 227.7,141.4 230.0,141.3 243.7,141.9 249.0,142.4 249.7,142.9 250.2,143.6 250.7,145.6 251.2,148.7 252.1,156.4 252.1,161.1 251.8,161.9 251.2,162.4 246.4,165.3 242.2,167.4 237.9,169.3 233.6,170.9 225.5,173.6 207.4,178.2 201.5,179.8 194.8,182.0 190.2,183.7 186.0,185.6 182.2,187.8 179.9,189.4 173.7,194.4 173.9,194.6 180.6,190.3 184.1,188.3 188.0,186.6 192.3,185.0 200.3,182.6 208.1,180.9 214.7,179.6 215.4,179.7 216.2,180.1 216.6,180.9 216.7,181.6 216.1,184.3 215.4,186.6 214.3,188.7 213.5,189.9 210.5,193.7 206.8,197.4 204.2,199.7 201.8,201.7 197.8,204.3 189.6,209.0 189.7,209.3 198.3,205.2 202.5,202.8 205.2,200.9 207.9,198.7 211.8,195.0 215.2,191.3 216.9,188.7 217.6,187.4 218.5,185.0 219.9,179.4 220.3,178.8 220.7,178.5 226.5,177.2 230.8,175.9 243.8,171.5 256.9,167.5 259.6,167.6 260.8,167.7 261.6,168.1 262.1,168.9 262.2,169.6 262.0,170.3 256.3,181.8 252.6,189.7 248.3,199.5 246.7,204.0 246.1,205.2 244.8,206.9 242.5,209.0 238.3,212.5 232.5,216.6 229.9,218.7 227.5,221.1 225.3,223.9 223.1,227.1 221.0,230.5 216.1,239.3 213.4,244.7 208.3,255.8 208.5,256.0 217.7,240.1 224.1,230.1 226.2,226.9 228.4,224.2 230.6,221.8 233.0,219.8 245.3,211.6 246.0,211.5 246.7,211.8 247.2,212.1 247.5,212.7 249.9,221.2 251.5,225.9 256.7,239.3 257.0,239.3 252.9,222.1 249.8,208.3 249.8,207.6 251.0,205.3 258.1,190.4 260.4,185.9 262.9,181.6 266.3,176.1 267.1,175.5 268.1,175.3 269.9,176.0 271.4,176.3 278.3,176.6 280.1,176.9 281.6,177.3 283.1,178.1 284.2,179.1 285.3,180.7 286.3,182.3 288.0,185.9 288.1,186.6 288.0,187.4 287.5,188.1 288.2,199.3 288.2,200.5 287.7,204.1 286.3,208.9 286.0,210.9 286.1,214.0 286.7,217.2 287.5,220.4 288.6,223.5 290.0,226.8 292.2,230.8 293.2,232.5 294.3,233.8 295.3,234.7 298.1,236.7 298.3,236.5 295.8,233.3 294.8,231.6 293.1,227.9 291.8,224.7 290.8,221.6 290.1,218.6 289.7,215.7 289.6,213.7 289.6,212.0 289.9,210.5 290.5,208.4 291.4,206.5 291.8,205.9 292.5,205.6 293.2,205.6 293.8,205.8 294.3,206.2 294.6,206.7 296.2,211.7 297.8,215.5 303.6,226.0 304.0,225.9 302.1,218.6 299.5,211.5 297.3,202.5 296.6,202.4 296.0,202.1 295.6,201.7 295.4,201.1 295.4,200.4 296.0,198.5 296.2,197.5 296.4,194.7 296.7,194.2 297.0,193.8 297.8,193.4 298.7,193.4 302.3,195.4 307.1,197.2 315.6,199.9 322.4,201.7 325.6,202.4 328.9,202.8 332.3,203.0 339.0,203.2 339.0,202.8 330.3,200.9 325.2,199.4 320.3,197.6 311.5,194.0 307.7,192.2 304.8,190.7 302.7,188.9 300.6,186.9 300.2,186.3 300.1,185.6 300.2,185.1 301.1,183.9 302.5,182.6 306.3,179.8 308.0,178.0 308.8,177.0 310.3,174.6 314.0,168.0 317.7,160.6 319.2,158.1 320.1,156.9 320.9,156.1 321.7,155.6 323.2,154.9 326.6,153.8 328.9,153.6 330.2,152.9 330.7,152.8 331.8,153.0 347.0,152.4 360.6,152.4 365.8,152.0 371.1,151.3 378.1,150.1 382.7,149.0 385.5,148.1 391.8,145.7 394.4,144.9 400.1,143.3 405.8,141.9 411.7,140.7 414.7,140.4 418.0,140.3 422.4,140.5 427.6,141.1 432.8,141.9 436.1,142.7 440.4,144.3 444.5,146.2 452.6,150.5 475.9,164.6 480.0,167.0 483.7,168.9 488.4,170.8 492.6,172.1 496.7,173.0 500.9,173.6 503.8,173.8 506.7,173.8 509.6,173.6 512.5,173.2 515.3,172.7 518.2,172.0 521.0,171.1 525.3,169.5 528.1,168.2 531.0,166.7 534.0,165.1 538.3,162.3 543.7,158.4 550.6,152.5 551.3,152.2 553.0,152.1 553.5,152.3 557.0,154.2 564.2,161.1 572.0,167.5 574.0,169.6 574.2,170.3 574.1,171.5 574.3,172.4 574.5,173.1 575.1,173.9 575.8,174.6 576.5,175.0 577.4,175.3 578.3,175.3 579.2,175.1 579.8,174.7 580.3,174.1 580.5,173.5 580.7,172.5 580.5,171.6 580.3,170.9 579.7,170.1 579.0,169.4 578.3,169.0 577.4,168.7 576.5,168.6 575.8,168.3 572.3,165.3 567.1,161.3 564.5,159.1 557.4,152.0 556.3,149.6 556.2,148.6 558.1,144.4 559.1,142.6 559.5,142.2 569.1,135.3 578.4,128.8 582.0,126.0 591.1,123.7 591.7,123.4 592.0,122.6 591.9,122.1 591.6,121.7 585.6,116.4 584.9,116.1 584.2,116.2 583.9,116.6 583.7,116.9 582.0,122.9 580.2,124.9 576.2,128.1 561.8,138.4 561.0,138.7 560.0,138.6 559.4,138.2 559.1,137.7 559.0,137.2 559.0,136.5 560.6,132.9 561.5,130.1 562.0,127.5 562.2,122.9 562.8,120.2 564.0,117.3 565.4,115.1 567.1,113.2 568.9,111.8 570.7,111.1 572.7,110.6 575.7,110.2 577.2,110.4 578.0,110.8 578.7,111.9 579.3,112.4 580.2,112.7 581.1,112.5 582.0,112.0 582.8,111.0 583.2,109.8 583.2,108.5 582.8,107.3 582.3,106.5 581.5,106.0 580.6,105.9 580.0,106.1 579.4,106.5 578.2,107.9 577.6,108.2 575.2,108.4 571.7,109.1 569.5,109.6 568.2,110.3 566.5,111.5 564.9,113.0 563.2,115.2 562.2,117.1 561.4,119.0 560.7,121.8 560.4,123.4 560.2,128.0 559.6,130.6 558.6,133.2 554.3,142.7 552.2,147.2 551.7,148.0 544.7,154.6 541.0,157.8 535.7,161.6 530.1,165.0 527.3,166.5 524.5,167.7 519.0,169.8 514.9,170.9 512.2,171.4 509.4,171.7 506.7,171.9 503.9,171.9 501.1,171.7 498.4,171.4 493.0,170.3 490.4,169.5 487.7,168.5 482.8,166.3 478.9,164.2 453.6,148.9 443.9,143.8 439.6,141.9 436.5,140.9 433.2,140.1 427.8,139.2 422.5,138.7 418.1,138.4 414.6,138.5 410.4,139.1 403.9,140.3 395.2,142.5 391.1,143.8 384.8,146.2 380.8,147.4 374.3,148.6 367.3,149.6 360.5,150.0 352.0,149.9 345.5,149.4 342.4,149.0 337.2,148.0 336.6,147.6 336.2,147.1 336.0,146.6 335.9,145.1 335.4,144.1 332.2,140.2 331.5,139.1 331.0,138.0 330.8,136.9 330.5,134.3 330.8,128.0 330.8,122.5 331.2,120.1 331.5,118.9 332.0,117.8 332.6,117.4 333.2,117.1 342.8,105.3 343.7,103.9 344.2,102.8 345.0,102.0 346.9,101.0 348.1,100.5 354.9,98.4 358.9,96.9 363.2,94.8 370.3,90.5 388.3,78.1 388.1,77.8 369.2,88.7 362.0,92.3 359.8,93.2 355.8,94.6 349.8,96.0 348.9,95.9 348.2,95.5 347.7,94.7 347.6,94.0 347.9,92.8 348.5,91.1 349.3,89.6 350.2,88.3 351.4,87.2 354.2,85.1 357.4,83.5 368.5,79.0 368.4,78.8 358.2,81.6 355.5,82.6 352.5,84.0 350.7,85.1 349.3,86.2 348.0,87.6 346.9,89.1 345.9,91.1 345.2,93.2 344.4,96.7 343.9,97.4 342.0,98.4 340.6,99.4 338.5,101.4 326.8,110.8 326.6,111.8 326.3,112.3 325.7,112.6 323.5,112.8 320.7,112.7 317.8,112.4 315.0,111.8 312.4,111.0 309.6,109.9 306.8,108.6 304.3,107.1 302.0,105.2 301.0,104.0 300.3,102.6 299.8,101.1 299.4,99.5 298.7,94.2 299.3,88.0 299.5,84.0 299.4,80.8 298.8,76.7 300.2,65.7 301.3,59.1 302.0,56.1 302.6,54.4 303.2,53.5 306.3,51.2 307.5,49.8 307.9,48.9 308.4,47.0 308.7,43.8 308.8,32.0 308.8,25.8 308.6,25.8 307.3,43.7 307.1,45.8 306.8,47.5 306.4,48.4 305.7,49.4 302.1,52.1 301.4,52.8 300.9,53.6 300.4,54.6 299.8,56.6 298.3,63.9 297.8,64.7 297.1,65.1 296.6,65.2 295.9,65.1 295.3,64.7 294.9,64.1 293.5,59.6 292.3,54.8 290.6,46.6 289.7,40.6 289.5,37.7 289.9,32.1 289.7,32.1 288.4,35.8 287.7,38.4 287.5,40.8 287.7,45.2 288.2,50.4 289.0,56.8 289.7,60.5 293.4,75.6 293.8,79.5 293.7,82.7 293.1,87.6 291.9,89.5 289.2,95.9 288.4,97.1 287.0,98.6 285.4,99.9 284.0,100.6 282.8,100.8 282.1,100.8 281.4,100.5 279.9,99.4 279.1,98.5 276.8,87.9 275.8,82.0 275.3,77.6 274.9,72.9 274.1,58.5 273.0,46.3 271.8,38.0 269.9,28.5 269.7,28.6 270.5,36.9 270.8,42.2 271.2,70.5 271.6,82.3 271.5,82.9 271.2,83.4 270.9,83.8 270.2,84.1 269.5,84.1 268.9,83.9 267.8,82.9 267.4,82.3 266.0,76.3 262.2,63.9 260.7,60.4 257.3,54.2 253.2,47.5 250.1,42.9 248.7,41.3 241.9,34.3 241.7,34.5 244.5,38.9 248.3,44.2 250.2,47.4 252.7,52.2 256.2,59.1 257.9,63.1 258.9,66.1 258.9,66.7 258.7,67.3 258.0,68.1 257.2,68.4 256.5,68.3 254.6,67.6 253.3,67.0 251.6,66.0 250.0,64.7 248.5,63.3 246.7,61.0 244.8,57.7 243.4,54.4 241.9,49.4 241.7,49.4 241.7,53.4 242.0,55.5 242.6,57.8 243.8,60.9 245.0,63.1 246.5,65.1 248.1,66.8 250.5,68.8 252.6,70.1 254.8,71.2 258.3,72.7 259.3,72.6 259.8,72.7 260.2,73.1 260.7,73.8 262.1,78.6 262.7,82.4 263.0,85.5 263.5,93.6 263.2,95.5 263.0,96.9 262.4,98.8 261.2,101.5 260.0,103.0 259.0,103.8 257.8,104.4 256.1,105.2 254.7,105.5 251.9,105.7 251.2,105.6 250.8,105.3 250.3,104.7 250.2,104.0 250.3,103.3 244.8,99.8 242.0,97.7 239.1,94.7 228.3,81.9 219.9,72.5 218.0,69.9 215.2,64.9 212.6,61.6 210.4,59.3 208.6,57.8 206.7,56.5 204.6,55.4 202.3,54.6 199.8,54.0 193.5,52.7 193.5,52.9 200.7,55.5 202.9,56.4 204.8,57.5 206.5,58.7 208.0,60.1 209.5,61.6 212.6,65.6 212.8,66.3 212.8,66.8 212.5,67.4 212.1,68.0 211.4,68.2 210.7,68.3 207.0,67.1 204.5,66.7 202.0,66.6 197.8,67.1 193.4,67.9 188.1,69.3 184.8,70.5 178.6,73.4 178.8,73.6 186.2,71.0 189.7,70.1 196.6,68.9 199.5,68.6 202.1,68.6 205.3,68.9 208.3,69.8 213.8,72.2 217.6,74.5 225.7,84.1 238.1,100.2 240.6,103.2 243.7,106.5 244.0,107.3 243.9,108.3 244.0,108.5 245.1,109.4 245.6,110.2 246.0,111.9 246.0,113.7 245.5,128.2 245.5,134.2 245.6,135.9 245.4,136.7 244.7,137.5 243.6,137.7 240.5,137.9 228.7,137.9 223.8,138.5 221.6,138.6 218.9,138.3 216.0,137.5 212.2,135.9 208.2,134.0 198.0,128.6 194.3,126.4 183.7,119.3 178.1,116.1 172.2,113.2 160.1,107.8Z"/></g>
<g fill="#ffffff" stroke="#ffffff" stroke-width="5.4" stroke-linejoin="round" opacity="0.75"><path d="M159.9,322.0 173.7,329.1 179.4,332.3 184.6,335.8 192.6,341.6 193.2,342.3 193.3,343.0 193.3,343.5 193.1,344.0 192.7,344.5 192.3,344.7 188.8,346.2 186.8,346.7 185.5,346.8 183.6,346.7 182.4,346.4 180.3,345.6 175.9,343.7 174.9,343.4 174.7,343.6 180.0,346.4 182.1,347.4 184.3,348.0 185.5,348.1 186.9,348.1 189.3,347.6 191.7,346.7 196.2,344.9 196.7,344.8 197.3,344.8 206.9,350.3 212.7,353.3 213.1,353.6 213.4,354.1 213.6,354.8 213.4,355.6 211.1,358.6 209.0,360.9 207.7,362.0 204.8,364.3 202.9,365.5 198.8,367.8 181.7,375.8 181.8,376.1 199.4,369.2 203.9,367.1 205.8,366.1 207.6,364.9 210.5,362.5 212.8,360.2 216.6,355.8 217.4,355.3 218.1,355.3 221.4,355.7 224.1,355.7 227.7,355.4 230.0,355.3 243.7,355.9 249.0,356.4 249.7,356.9 250.2,357.6 250.7,359.6 251.2,362.7 252.1,370.4 252.1,375.1 251.8,375.9 251.2,376.4 246.4,379.3 242.2,381.4 237.9,383.3 233.6,384.9 225.5,387.6 207.4,392.2 201.5,393.8 194.8,396.0 190.2,397.7 186.0,399.6 182.2,401.8 179.9,403.4 173.7,408.4 173.9,408.6 180.6,404.3 184.1,402.3 188.0,400.6 192.3,399.0 200.3,396.6 208.1,394.9 214.7,393.6 215.4,393.7 216.2,394.1 216.6,394.9 216.7,395.6 216.1,398.3 215.4,400.6 214.3,402.7 213.5,403.9 210.5,407.7 206.8,411.4 204.2,413.7 201.8,415.7 197.8,418.3 189.6,423.0 189.7,423.3 198.3,419.2 202.5,416.8 205.2,414.9 207.9,412.7 211.8,409.0 215.2,405.3 216.9,402.7 217.6,401.4 218.5,399.0 219.9,393.4 220.3,392.8 220.7,392.5 226.5,391.2 230.8,389.9 243.8,385.5 256.9,381.5 259.6,381.6 260.8,381.7 261.6,382.1 262.1,382.9 262.2,383.6 262.0,384.3 256.3,395.8 252.6,403.7 248.3,413.5 246.7,418.0 246.1,419.2 244.8,420.9 242.5,423.0 238.3,426.5 232.5,430.6 229.9,432.7 227.5,435.1 225.3,437.9 223.1,441.1 221.0,444.5 216.1,453.3 213.4,458.7 208.3,469.8 208.5,470.0 217.7,454.1 224.1,444.1 226.2,440.9 228.4,438.2 230.6,435.8 233.0,433.8 245.3,425.6 246.0,425.5 246.6,425.7 247.2,426.1 247.5,426.7 249.9,435.2 251.5,439.9 256.7,453.3 257.0,453.3 252.9,436.1 249.8,422.3 249.8,421.6 251.0,419.3 258.1,404.4 260.4,399.9 262.9,395.6 266.3,390.1 267.1,389.5 268.1,389.3 269.9,390.0 271.4,390.3 278.3,390.6 280.1,390.9 281.6,391.3 283.1,392.1 284.2,393.1 285.3,394.7 286.3,396.3 288.0,399.9 288.1,400.6 288.0,401.4 287.5,402.1 288.2,413.3 288.2,414.5 287.7,418.1 286.3,422.9 286.0,424.9 286.1,428.0 286.7,431.2 287.5,434.4 288.6,437.5 290.0,440.8 292.2,444.8 293.2,446.5 294.3,447.8 295.3,448.7 298.1,450.7 298.3,450.5 295.8,447.3 294.8,445.6 293.1,441.9 291.8,438.7 290.8,435.6 290.1,432.6 289.7,429.7 289.6,427.7 289.6,426.0 289.9,424.5 290.5,422.4 291.4,420.5 291.8,419.9 292.5,419.6 293.2,419.6 293.8,419.8 294.3,420.2 294.6,420.7 296.2,425.7 297.8,429.5 303.6,440.0 304.0,439.9 302.1,432.6 299.5,425.5 297.3,416.5 296.6,416.4 296.0,416.1 295.5,415.6 295.4,415.1 295.4,414.4 296.0,412.5 296.2,411.5 296.4,408.7 296.7,408.2 297.0,407.8 297.8,407.4 298.7,407.4 302.3,409.4 307.1,411.2 315.6,413.9 322.4,415.7 325.6,416.4 328.9,416.8 332.3,417.0 339.0,417.2 339.0,416.8 330.3,414.9 325.2,413.4 319.2,411.2 310.2,407.4 306.6,405.7 304.2,404.2 300.6,400.9 300.3,400.5 300.1,400.0 300.1,399.4 300.3,398.9 301.1,397.9 302.5,396.6 306.3,393.8 308.0,392.0 308.8,390.9 310.3,388.6 314.0,382.0 318.5,373.3 320.1,370.9 321.4,369.7 322.4,369.2 326.6,367.8 328.9,367.6 330.0,367.0 331.6,365.7 332.2,365.5 333.5,365.5 342.1,366.4 346.8,366.6 355.2,366.4 362.2,365.8 369.1,364.7 377.5,362.9 384.4,361.1 392.8,358.4 396.1,357.4 402.9,355.9 407.9,355.1 412.8,354.6 416.2,354.5 419.7,354.7 423.4,355.1 436.2,356.8 438.5,357.5 442.5,358.8 449.4,361.3 454.7,363.7 458.0,365.5 461.4,367.8 468.1,372.9 471.5,375.3 476.7,378.4 481.8,381.2 486.9,383.6 490.4,384.8 493.9,385.8 499.0,386.9 502.4,387.3 505.9,387.5 512.8,387.3 516.2,387.0 519.6,386.4 523.1,385.4 524.9,384.8 528.4,383.3 532.1,381.3 535.7,379.0 539.0,376.7 542.0,374.6 544.6,372.5 546.9,370.3 551.0,365.9 551.6,365.6 552.3,365.5 553.0,365.6 556.0,367.0 559.7,368.9 560.3,368.9 560.8,369.2 571.5,379.4 572.9,380.4 574.4,380.9 574.8,381.2 575.3,382.0 576.8,386.9 577.7,389.2 580.6,395.1 581.7,396.9 582.5,397.8 583.3,398.4 584.2,399.0 585.4,399.4 586.7,399.5 588.1,399.3 589.4,399.0 596.7,396.7 598.3,396.4 599.7,396.3 601.1,396.4 603.9,396.8 613.3,399.1 621.3,400.4 626.1,401.0 629.2,401.1 630.7,401.0 633.6,400.4 636.5,399.5 639.2,398.3 643.4,396.2 644.9,395.4 646.5,394.0 648.6,393.5 650.2,392.7 651.5,391.4 652.0,390.2 651.9,389.6 651.7,389.1 651.3,388.7 650.7,388.4 649.3,388.2 647.5,388.6 646.1,389.3 645.1,390.4 644.5,391.4 644.4,392.7 644.2,393.2 643.8,393.7 643.1,394.2 638.5,396.6 634.6,398.2 631.8,399.0 629.2,399.3 626.2,399.2 621.6,398.7 613.7,397.3 604.3,395.0 601.2,394.6 599.6,394.5 598.0,394.6 596.3,394.9 589.0,397.3 587.8,397.6 586.7,397.7 586.0,397.6 585.0,397.4 583.8,396.5 583.1,395.7 582.1,394.2 579.7,389.4 578.6,386.4 577.2,381.7 577.2,380.9 577.5,380.3 580.0,378.3 585.2,373.6 590.1,370.3 593.3,368.4 595.6,367.3 598.2,366.4 601.2,365.6 607.9,364.3 611.0,363.4 612.4,362.9 614.8,361.7 617.0,360.3 618.9,358.8 621.3,356.5 622.6,354.8 624.1,352.3 624.9,349.7 625.3,348.2 625.4,346.7 625.1,345.5 624.5,344.1 624.4,343.4 624.5,342.8 625.2,341.7 625.2,340.9 625.1,340.5 624.7,340.1 623.5,339.4 621.7,339.2 619.8,339.6 618.3,340.5 617.8,341.0 617.4,341.5 617.3,342.1 617.4,342.5 617.7,343.0 618.2,343.4 619.4,343.9 621.2,344.0 622.0,344.4 623.1,345.9 623.5,347.0 623.3,348.5 622.9,350.1 622.4,351.6 621.7,353.0 620.0,355.2 617.7,357.4 615.9,358.8 613.9,360.1 611.7,361.2 610.5,361.7 607.5,362.5 600.8,363.9 597.7,364.7 594.9,365.7 592.5,366.8 589.2,368.7 584.0,372.2 578.7,377.0 577.0,378.3 576.1,378.7 575.2,379.0 574.3,378.9 573.6,378.6 572.6,377.9 566.6,372.0 560.2,365.0 558.3,360.6 558.1,359.8 559.5,355.5 560.9,352.5 561.5,352.0 568.9,348.3 572.6,346.3 577.9,342.7 579.9,341.2 581.7,339.5 583.5,337.6 585.3,335.2 590.7,326.0 594.0,321.1 595.8,318.9 597.6,317.2 599.7,316.0 601.9,315.3 604.1,315.0 606.1,315.2 607.8,315.8 609.4,316.6 612.3,318.1 613.4,318.9 613.9,319.4 614.1,319.9 614.3,321.4 614.7,322.5 615.4,323.3 616.4,324.1 617.6,324.4 618.8,324.4 619.8,323.8 620.4,322.9 620.6,322.0 620.4,320.9 619.9,320.0 619.0,319.1 617.7,318.5 615.8,318.2 613.7,316.8 608.5,314.2 605.8,313.3 604.0,313.2 601.4,313.5 598.9,314.4 597.2,315.3 595.8,316.3 593.7,318.5 589.2,325.0 583.7,334.2 582.1,336.4 580.4,338.3 578.7,339.8 576.9,341.3 571.7,344.7 567.6,346.7 566.7,346.7 565.9,346.2 565.5,345.5 565.4,345.0 565.5,344.4 568.0,339.5 569.0,336.9 569.8,334.5 570.2,332.2 570.4,329.0 570.3,323.0 569.4,314.0 569.2,310.3 569.5,306.7 569.8,305.4 570.3,304.1 571.4,302.0 573.1,300.0 575.1,298.1 576.3,297.2 577.4,296.6 579.2,296.2 582.4,296.2 584.9,295.9 585.4,296.0 586.7,296.6 587.9,296.7 589.2,296.4 590.2,296.0 590.8,295.5 591.4,294.8 591.6,294.1 591.6,293.4 591.4,292.8 590.9,292.3 590.1,291.9 589.3,291.7 588.0,291.8 587.1,292.1 586.2,292.6 585.1,293.6 583.8,294.0 582.2,294.3 578.4,294.5 576.9,294.8 576.1,295.2 574.6,296.2 572.4,298.1 570.5,300.3 569.4,301.9 568.7,303.3 568.1,304.8 567.7,306.4 567.4,309.1 567.5,312.7 568.4,321.8 568.6,327.9 568.4,331.9 567.7,335.2 566.9,337.5 565.1,341.3 562.2,346.3 560.0,349.6 559.7,350.0 559.1,350.3 556.0,351.0 551.8,356.1 549.0,362.0 549.4,362.5 549.6,363.2 549.6,363.9 549.3,364.4 546.4,367.8 543.3,370.9 540.8,373.0 536.3,376.2 531.1,379.5 527.6,381.5 524.2,382.9 520.9,384.0 517.6,384.7 514.2,385.2 510.9,385.4 505.9,385.5 501.0,385.1 497.7,384.6 494.4,383.9 491.0,383.0 487.7,381.7 484.4,380.2 477.7,376.6 474.3,374.6 471.0,372.5 462.6,366.2 459.1,363.9 455.6,361.9 452.0,360.2 444.8,357.5 437.3,355.0 435.2,354.6 423.6,353.1 418.1,352.6 414.5,352.5 409.3,352.9 404.2,353.6 395.6,355.4 392.2,356.4 383.8,359.2 377.1,360.9 368.7,362.7 362.0,363.7 355.1,364.4 350.1,364.5 346.9,364.2 345.5,363.9 342.9,363.0 340.4,361.8 336.2,359.6 334.7,357.2 332.1,354.1 331.5,353.1 331.0,352.0 330.7,350.7 330.5,348.3 330.8,342.0 330.8,337.5 331.2,334.2 331.5,332.9 331.9,332.0 332.4,331.5 333.2,331.1 342.8,319.3 343.7,317.9 344.2,316.8 345.0,316.0 346.9,315.0 348.1,314.5 354.9,312.4 358.9,310.9 363.2,308.8 370.3,304.5 388.3,292.1 388.1,291.8 369.2,302.7 362.0,306.3 359.8,307.2 355.8,308.6 349.8,310.0 348.9,309.9 348.2,309.5 347.7,308.7 347.6,308.0 347.9,306.8 348.5,305.1 349.3,303.6 350.2,302.3 351.4,301.2 354.2,299.1 357.4,297.5 368.5,293.0 368.4,292.8 358.2,295.6 355.5,296.6 352.5,298.0 350.7,299.1 349.3,300.2 348.0,301.6 346.9,303.1 345.9,305.1 345.2,307.2 344.4,310.7 343.9,311.4 342.0,312.4 340.6,313.4 338.5,315.4 326.8,324.8 326.6,325.8 326.1,326.4 325.7,326.6 323.5,326.8 320.7,326.7 317.8,326.4 315.0,325.8 312.4,325.0 309.6,323.9 306.8,322.6 304.3,321.1 302.0,319.2 301.0,318.0 300.3,316.6 299.8,315.1 299.4,313.5 298.7,308.2 299.3,302.0 299.5,298.0 299.4,294.8 298.8,290.7 300.2,279.7 301.3,273.1 302.0,270.1 302.6,268.4 303.2,267.5 306.3,265.2 307.5,263.8 307.9,262.9 308.4,261.0 308.7,257.8 308.8,239.8 308.5,239.8 307.3,257.7 307.1,259.8 306.8,261.5 306.4,262.4 305.7,263.4 302.1,266.1 301.4,266.8 300.9,267.6 300.4,268.6 299.8,270.6 298.3,277.9 297.8,278.7 297.1,279.1 296.4,279.2 295.7,279.0 295.3,278.7 294.9,278.1 293.5,273.6 292.3,268.8 290.6,260.6 289.7,254.6 289.5,251.7 289.9,246.1 289.7,246.1 288.4,249.8 287.7,252.4 287.5,254.8 287.7,259.2 288.2,264.4 289.0,270.8 289.7,274.5 293.4,289.6 293.8,293.5 293.7,296.7 293.1,301.6 291.9,303.5 289.2,309.9 288.4,311.1 287.0,312.6 285.4,313.9 284.0,314.6 282.8,314.8 282.1,314.8 281.4,314.5 279.9,313.4 279.1,312.5 276.8,301.9 275.8,296.0 275.3,291.6 274.9,286.9 274.1,272.5 273.0,260.3 271.8,252.0 269.9,242.5 269.7,242.6 270.5,250.9 270.8,256.2 271.2,284.5 271.6,296.3 271.5,296.8 271.2,297.4 270.7,297.9 270.2,298.1 269.5,298.1 268.9,297.9 267.8,296.9 267.4,296.3 266.0,290.3 262.2,277.9 260.7,274.4 257.3,268.2 253.2,261.5 250.1,256.9 248.7,255.3 241.9,248.3 241.7,248.5 244.5,252.9 248.3,258.2 250.2,261.4 252.7,266.2 256.2,273.1 257.9,277.1 258.9,280.1 258.9,280.7 258.7,281.3 258.0,282.1 257.2,282.4 256.5,282.3 254.6,281.6 253.3,281.0 251.6,280.0 250.0,278.7 248.5,277.3 246.7,275.0 244.8,271.7 243.4,268.4 241.9,263.4 241.7,263.4 241.7,267.4 242.0,269.5 242.6,271.8 243.8,274.9 245.0,277.1 246.5,279.1 248.1,280.8 250.5,282.8 252.6,284.1 254.8,285.2 258.3,286.7 259.3,286.6 259.8,286.7 260.2,287.1 260.7,287.8 262.1,292.6 262.7,296.4 263.0,299.5 263.5,307.6 263.2,309.5 263.0,310.9 262.4,312.8 261.2,315.5 260.0,317.0 259.0,317.8 257.8,318.4 256.1,319.2 254.7,319.5 251.9,319.7 251.2,319.6 250.8,319.3 250.3,318.7 250.2,318.0 250.3,317.3 244.8,313.8 242.0,311.7 239.1,308.7 228.3,295.9 219.9,286.5 218.0,283.9 215.2,278.9 212.6,275.6 210.4,273.3 208.6,271.8 206.7,270.5 204.6,269.4 202.3,268.6 199.8,268.0 193.5,266.7 193.5,266.9 200.7,269.5 202.9,270.4 204.8,271.5 206.5,272.7 208.0,274.1 209.5,275.6 212.6,279.6 212.8,280.3 212.8,281.0 212.5,281.4 212.1,282.0 211.4,282.2 210.7,282.3 207.0,281.1 204.5,280.7 202.0,280.6 197.8,281.1 193.4,281.9 188.1,283.3 184.8,284.5 178.6,287.4 178.8,287.6 186.2,285.0 189.7,284.1 196.6,282.9 199.5,282.6 202.1,282.6 205.3,282.9 208.3,283.8 213.8,286.2 217.6,288.5 225.7,298.1 238.1,314.2 240.6,317.2 243.7,320.5 244.0,321.3 243.9,322.3 244.0,322.5 245.1,323.4 245.6,324.2 246.0,325.9 246.0,327.7 245.5,342.2 245.5,348.2 245.6,349.9 245.3,350.9 244.7,351.5 243.6,351.7 240.5,351.9 228.7,351.9 223.8,352.5 221.6,352.6 218.9,352.3 216.0,351.5 212.2,349.9 208.2,348.0 198.0,342.6 194.3,340.4 183.7,333.3 178.1,330.1 172.2,327.2 160.1,321.8Z"/></g>
<g fill="#20963a" stroke="#20963a" stroke-width="2.8" stroke-linejoin="round"><path d="M159.9,322.0 173.7,329.1 179.4,332.3 184.6,335.8 192.6,341.6 193.2,342.3 193.3,343.0 193.3,343.5 193.1,344.0 192.7,344.5 192.3,344.7 188.8,346.2 186.8,346.7 185.5,346.8 183.6,346.7 182.4,346.4 180.3,345.6 175.9,343.7 174.9,343.4 174.7,343.6 180.0,346.4 182.1,347.4 184.3,348.0 185.5,348.1 186.9,348.1 189.3,347.6 191.7,346.7 196.2,344.9 196.7,344.8 197.3,344.8 206.9,350.3 212.7,353.3 213.1,353.6 213.4,354.1 213.6,354.8 213.4,355.6 211.1,358.6 209.0,360.9 207.7,362.0 204.8,364.3 202.9,365.5 198.8,367.8 181.7,375.8 181.8,376.1 199.4,369.2 203.9,367.1 205.8,366.1 207.6,364.9 210.5,362.5 212.8,360.2 216.6,355.8 217.4,355.3 218.1,355.3 221.4,355.7 224.1,355.7 227.7,355.4 230.0,355.3 243.7,355.9 249.0,356.4 249.7,356.9 250.2,357.6 250.7,359.6 251.2,362.7 252.1,370.4 252.1,375.1 251.8,375.9 251.2,376.4 246.4,379.3 242.2,381.4 237.9,383.3 233.6,384.9 225.5,387.6 207.4,392.2 201.5,393.8 194.8,396.0 190.2,397.7 186.0,399.6 182.2,401.8 179.9,403.4 173.7,408.4 173.9,408.6 180.6,404.3 184.1,402.3 188.0,400.6 192.3,399.0 200.3,396.6 208.1,394.9 214.7,393.6 215.4,393.7 216.2,394.1 216.6,394.9 216.7,395.6 216.1,398.3 215.4,400.6 214.3,402.7 213.5,403.9 210.5,407.7 206.8,411.4 204.2,413.7 201.8,415.7 197.8,418.3 189.6,423.0 189.7,423.3 198.3,419.2 202.5,416.8 205.2,414.9 207.9,412.7 211.8,409.0 215.2,405.3 216.9,402.7 217.6,401.4 218.5,399.0 219.9,393.4 220.3,392.8 220.7,392.5 226.5,391.2 230.8,389.9 243.8,385.5 256.9,381.5 259.6,381.6 260.8,381.7 261.6,382.1 262.1,382.9 262.2,383.6 262.0,384.3 256.3,395.8 252.6,403.7 248.3,413.5 246.7,418.0 246.1,419.2 244.8,420.9 242.5,423.0 238.3,426.5 232.5,430.6 229.9,432.7 227.5,435.1 225.3,437.9 223.1,441.1 221.0,444.5 216.1,453.3 213.4,458.7 208.3,469.8 208.5,470.0 217.7,454.1 224.1,444.1 226.2,440.9 228.4,438.2 230.6,435.8 233.0,433.8 245.3,425.6 246.0,425.5 246.6,425.7 247.2,426.1 247.5,426.7 249.9,435.2 251.5,439.9 256.7,453.3 257.0,453.3 252.9,436.1 249.8,422.3 249.8,421.6 251.0,419.3 258.1,404.4 260.4,399.9 262.9,395.6 266.3,390.1 267.1,389.5 268.1,389.3 269.9,390.0 271.4,390.3 278.3,390.6 280.1,390.9 281.6,391.3 283.1,392.1 284.2,393.1 285.3,394.7 286.3,396.3 288.0,399.9 288.1,400.6 288.0,401.4 287.5,402.1 288.2,413.3 288.2,414.5 287.7,418.1 286.3,422.9 286.0,424.9 286.1,428.0 286.7,431.2 287.5,434.4 288.6,437.5 290.0,440.8 292.2,444.8 293.2,446.5 294.3,447.8 295.3,448.7 298.1,450.7 298.3,450.5 295.8,447.3 294.8,445.6 293.1,441.9 291.8,438.7 290.8,435.6 290.1,432.6 289.7,429.7 289.6,427.7 289.6,426.0 289.9,424.5 290.5,422.4 291.4,420.5 291.8,419.9 292.5,419.6 293.2,419.6 293.8,419.8 294.3,420.2 294.6,420.7 296.2,425.7 297.8,429.5 303.6,440.0 304.0,439.9 302.1,432.6 299.5,425.5 297.3,416.5 296.6,416.4 296.0,416.1 295.5,415.6 295.4,415.1 295.4,414.4 296.0,412.5 296.2,411.5 296.4,408.7 296.7,408.2 297.0,407.8 297.8,407.4 298.7,407.4 302.3,409.4 307.1,411.2 315.6,413.9 322.4,415.7 325.6,416.4 328.9,416.8 332.3,417.0 339.0,417.2 339.0,416.8 330.3,414.9 325.2,413.4 319.2,411.2 310.2,407.4 306.6,405.7 304.2,404.2 300.6,400.9 300.3,400.5 300.1,400.0 300.1,399.4 300.3,398.9 301.1,397.9 302.5,396.6 306.3,393.8 308.0,392.0 308.8,390.9 310.3,388.6 314.0,382.0 318.5,373.3 320.1,370.9 321.4,369.7 322.4,369.2 326.6,367.8 328.9,367.6 330.0,367.0 331.6,365.7 332.2,365.5 333.5,365.5 342.1,366.4 346.8,366.6 355.2,366.4 362.2,365.8 369.1,364.7 377.5,362.9 384.4,361.1 392.8,358.4 396.1,357.4 402.9,355.9 407.9,355.1 412.8,354.6 416.2,354.5 419.7,354.7 423.4,355.1 436.2,356.8 438.5,357.5 442.5,358.8 449.4,361.3 454.7,363.7 458.0,365.5 461.4,367.8 468.1,372.9 471.5,375.3 476.7,378.4 481.8,381.2 486.9,383.6 490.4,384.8 493.9,385.8 499.0,386.9 502.4,387.3 505.9,387.5 512.8,387.3 516.2,387.0 519.6,386.4 523.1,385.4 524.9,384.8 528.4,383.3 532.1,381.3 535.7,379.0 539.0,376.7 542.0,374.6 544.6,372.5 546.9,370.3 551.0,365.9 551.6,365.6 552.3,365.5 553.0,365.6 556.0,367.0 559.7,368.9 560.3,368.9 560.8,369.2 571.5,379.4 572.9,380.4 574.4,380.9 574.8,381.2 575.3,382.0 576.8,386.9 577.7,389.2 580.6,395.1 581.7,396.9 582.5,397.8 583.3,398.4 584.2,399.0 585.4,399.4 586.7,399.5 588.1,399.3 589.4,399.0 596.7,396.7 598.3,396.4 599.7,396.3 601.1,396.4 603.9,396.8 613.3,399.1 621.3,400.4 626.1,401.0 629.2,401.1 630.7,401.0 633.6,400.4 636.5,399.5 639.2,398.3 643.4,396.2 644.9,395.4 646.5,394.0 648.6,393.5 650.2,392.7 651.5,391.4 652.0,390.2 651.9,389.6 651.7,389.1 651.3,388.7 650.7,388.4 649.3,388.2 647.5,388.6 646.1,389.3 645.1,390.4 644.5,391.4 644.4,392.7 644.2,393.2 643.8,393.7 643.1,394.2 638.5,396.6 634.6,398.2 631.8,399.0 629.2,399.3 626.2,399.2 621.6,398.7 613.7,397.3 604.3,395.0 601.2,394.6 599.6,394.5 598.0,394.6 596.3,394.9 589.0,397.3 587.8,397.6 586.7,397.7 586.0,397.6 585.0,397.4 583.8,396.5 583.1,395.7 582.1,394.2 579.7,389.4 578.6,386.4 577.2,381.7 577.2,380.9 577.5,380.3 580.0,378.3 585.2,373.6 590.1,370.3 593.3,368.4 595.6,367.3 598.2,366.4 601.2,365.6 607.9,364.3 611.0,363.4 612.4,362.9 614.8,361.7 617.0,360.3 618.9,358.8 621.3,356.5 622.6,354.8 624.1,352.3 624.9,349.7 625.3,348.2 625.4,346.7 625.1,345.5 624.5,344.1 624.4,343.4 624.5,342.8 625.2,341.7 625.2,340.9 625.1,340.5 624.7,340.1 623.5,339.4 621.7,339.2 619.8,339.6 618.3,340.5 617.8,341.0 617.4,341.5 617.3,342.1 617.4,342.5 617.7,343.0 618.2,343.4 619.4,343.9 621.2,344.0 622.0,344.4 623.1,345.9 623.5,347.0 623.3,348.5 622.9,350.1 622.4,351.6 621.7,353.0 620.0,355.2 617.7,357.4 615.9,358.8 613.9,360.1 611.7,361.2 610.5,361.7 607.5,362.5 600.8,363.9 597.7,364.7 594.9,365.7 592.5,366.8 589.2,368.7 584.0,372.2 578.7,377.0 577.0,378.3 576.1,378.7 575.2,379.0 574.3,378.9 573.6,378.6 572.6,377.9 566.6,372.0 560.2,365.0 558.3,360.6 558.1,359.8 559.5,355.5 560.9,352.5 561.5,352.0 568.9,348.3 572.6,346.3 577.9,342.7 579.9,341.2 581.7,339.5 583.5,337.6 585.3,335.2 590.7,326.0 594.0,321.1 595.8,318.9 597.6,317.2 599.7,316.0 601.9,315.3 604.1,315.0 606.1,315.2 607.8,315.8 609.4,316.6 612.3,318.1 613.4,318.9 613.9,319.4 614.1,319.9 614.3,321.4 614.7,322.5 615.4,323.3 616.4,324.1 617.6,324.4 618.8,324.4 619.8,323.8 620.4,322.9 620.6,322.0 620.4,320.9 619.9,320.0 619.0,319.1 617.7,318.5 615.8,318.2 613.7,316.8 608.5,314.2 605.8,313.3 604.0,313.2 601.4,313.5 598.9,314.4 597.2,315.3 595.8,316.3 593.7,318.5 589.2,325.0 583.7,334.2 582.1,336.4 580.4,338.3 578.7,339.8 576.9,341.3 571.7,344.7 567.6,346.7 566.7,346.7 565.9,346.2 565.5,345.5 565.4,345.0 565.5,344.4 568.0,339.5 569.0,336.9 569.8,334.5 570.2,332.2 570.4,329.0 570.3,323.0 569.4,314.0 569.2,310.3 569.5,306.7 569.8,305.4 570.3,304.1 571.4,302.0 573.1,300.0 575.1,298.1 576.3,297.2 577.4,296.6 579.2,296.2 582.4,296.2 584.9,295.9 585.4,296.0 586.7,296.6 587.9,296.7 589.2,296.4 590.2,296.0 590.8,295.5 591.4,294.8 591.6,294.1 591.6,293.4 591.4,292.8 590.9,292.3 590.1,291.9 589.3,291.7 588.0,291.8 587.1,292.1 586.2,292.6 585.1,293.6 583.8,294.0 582.2,294.3 578.4,294.5 576.9,294.8 576.1,295.2 574.6,296.2 572.4,298.1 570.5,300.3 569.4,301.9 568.7,303.3 568.1,304.8 567.7,306.4 567.4,309.1 567.5,312.7 568.4,321.8 568.6,327.9 568.4,331.9 567.7,335.2 566.9,337.5 565.1,341.3 562.2,346.3 560.0,349.6 559.7,350.0 559.1,350.3 556.0,351.0 551.8,356.1 549.0,362.0 549.4,362.5 549.6,363.2 549.6,363.9 549.3,364.4 546.4,367.8 543.3,370.9 540.8,373.0 536.3,376.2 531.1,379.5 527.6,381.5 524.2,382.9 520.9,384.0 517.6,384.7 514.2,385.2 510.9,385.4 505.9,385.5 501.0,385.1 497.7,384.6 494.4,383.9 491.0,383.0 487.7,381.7 484.4,380.2 477.7,376.6 474.3,374.6 471.0,372.5 462.6,366.2 459.1,363.9 455.6,361.9 452.0,360.2 444.8,357.5 437.3,355.0 435.2,354.6 423.6,353.1 418.1,352.6 414.5,352.5 409.3,352.9 404.2,353.6 395.6,355.4 392.2,356.4 383.8,359.2 377.1,360.9 368.7,362.7 362.0,363.7 355.1,364.4 350.1,364.5 346.9,364.2 345.5,363.9 342.9,363.0 340.4,361.8 336.2,359.6 334.7,357.2 332.1,354.1 331.5,353.1 331.0,352.0 330.7,350.7 330.5,348.3 330.8,342.0 330.8,337.5 331.2,334.2 331.5,332.9 331.9,332.0 332.4,331.5 333.2,331.1 342.8,319.3 343.7,317.9 344.2,316.8 345.0,316.0 346.9,315.0 348.1,314.5 354.9,312.4 358.9,310.9 363.2,308.8 370.3,304.5 388.3,292.1 388.1,291.8 369.2,302.7 362.0,306.3 359.8,307.2 355.8,308.6 349.8,310.0 348.9,309.9 348.2,309.5 347.7,308.7 347.6,308.0 347.9,306.8 348.5,305.1 349.3,303.6 350.2,302.3 351.4,301.2 354.2,299.1 357.4,297.5 368.5,293.0 368.4,292.8 358.2,295.6 355.5,296.6 352.5,298.0 350.7,299.1 349.3,300.2 348.0,301.6 346.9,303.1 345.9,305.1 345.2,307.2 344.4,310.7 343.9,311.4 342.0,312.4 340.6,313.4 338.5,315.4 326.8,324.8 326.6,325.8 326.1,326.4 325.7,326.6 323.5,326.8 320.7,326.7 317.8,326.4 315.0,325.8 312.4,325.0 309.6,323.9 306.8,322.6 304.3,321.1 302.0,319.2 301.0,318.0 300.3,316.6 299.8,315.1 299.4,313.5 298.7,308.2 299.3,302.0 299.5,298.0 299.4,294.8 298.8,290.7 300.2,279.7 301.3,273.1 302.0,270.1 302.6,268.4 303.2,267.5 306.3,265.2 307.5,263.8 307.9,262.9 308.4,261.0 308.7,257.8 308.8,239.8 308.5,239.8 307.3,257.7 307.1,259.8 306.8,261.5 306.4,262.4 305.7,263.4 302.1,266.1 301.4,266.8 300.9,267.6 300.4,268.6 299.8,270.6 298.3,277.9 297.8,278.7 297.1,279.1 296.4,279.2 295.7,279.0 295.3,278.7 294.9,278.1 293.5,273.6 292.3,268.8 290.6,260.6 289.7,254.6 289.5,251.7 289.9,246.1 289.7,246.1 288.4,249.8 287.7,252.4 287.5,254.8 287.7,259.2 288.2,264.4 289.0,270.8 289.7,274.5 293.4,289.6 293.8,293.5 293.7,296.7 293.1,301.6 291.9,303.5 289.2,309.9 288.4,311.1 287.0,312.6 285.4,313.9 284.0,314.6 282.8,314.8 282.1,314.8 281.4,314.5 279.9,313.4 279.1,312.5 276.8,301.9 275.8,296.0 275.3,291.6 274.9,286.9 274.1,272.5 273.0,260.3 271.8,252.0 269.9,242.5 269.7,242.6 270.5,250.9 270.8,256.2 271.2,284.5 271.6,296.3 271.5,296.8 271.2,297.4 270.7,297.9 270.2,298.1 269.5,298.1 268.9,297.9 267.8,296.9 267.4,296.3 266.0,290.3 262.2,277.9 260.7,274.4 257.3,268.2 253.2,261.5 250.1,256.9 248.7,255.3 241.9,248.3 241.7,248.5 244.5,252.9 248.3,258.2 250.2,261.4 252.7,266.2 256.2,273.1 257.9,277.1 258.9,280.1 258.9,280.7 258.7,281.3 258.0,282.1 257.2,282.4 256.5,282.3 254.6,281.6 253.3,281.0 251.6,280.0 250.0,278.7 248.5,277.3 246.7,275.0 244.8,271.7 243.4,268.4 241.9,263.4 241.7,263.4 241.7,267.4 242.0,269.5 242.6,271.8 243.8,274.9 245.0,277.1 246.5,279.1 248.1,280.8 250.5,282.8 252.6,284.1 254.8,285.2 258.3,286.7 259.3,286.6 259.8,286.7 260.2,287.1 260.7,287.8 262.1,292.6 262.7,296.4 263.0,299.5 263.5,307.6 263.2,309.5 263.0,310.9 262.4,312.8 261.2,315.5 260.0,317.0 259.0,317.8 257.8,318.4 256.1,319.2 254.7,319.5 251.9,319.7 251.2,319.6 250.8,319.3 250.3,318.7 250.2,318.0 250.3,317.3 244.8,313.8 242.0,311.7 239.1,308.7 228.3,295.9 219.9,286.5 218.0,283.9 215.2,278.9 212.6,275.6 210.4,273.3 208.6,271.8 206.7,270.5 204.6,269.4 202.3,268.6 199.8,268.0 193.5,266.7 193.5,266.9 200.7,269.5 202.9,270.4 204.8,271.5 206.5,272.7 208.0,274.1 209.5,275.6 212.6,279.6 212.8,280.3 212.8,281.0 212.5,281.4 212.1,282.0 211.4,282.2 210.7,282.3 207.0,281.1 204.5,280.7 202.0,280.6 197.8,281.1 193.4,281.9 188.1,283.3 184.8,284.5 178.6,287.4 178.8,287.6 186.2,285.0 189.7,284.1 196.6,282.9 199.5,282.6 202.1,282.6 205.3,282.9 208.3,283.8 213.8,286.2 217.6,288.5 225.7,298.1 238.1,314.2 240.6,317.2 243.7,320.5 244.0,321.3 243.9,322.3 244.0,322.5 245.1,323.4 245.6,324.2 246.0,325.9 246.0,327.7 245.5,342.2 245.5,348.2 245.6,349.9 245.3,350.9 244.7,351.5 243.6,351.7 240.5,351.9 228.7,351.9 223.8,352.5 221.6,352.6 218.9,352.3 216.0,351.5 212.2,349.9 208.2,348.0 198.0,342.6 194.3,340.4 183.7,333.3 178.1,330.1 172.2,327.2 160.1,321.8Z"/></g>
<g fill="#f5f1b6"><path d="M159.9,322.0 173.7,329.1 179.4,332.3 184.6,335.8 192.6,341.6 193.2,342.3 193.3,343.0 193.3,343.5 193.1,344.0 192.7,344.5 192.3,344.7 188.8,346.2 186.8,346.7 185.5,346.8 183.6,346.7 182.4,346.4 180.3,345.6 175.9,343.7 174.9,343.4 174.7,343.6 180.0,346.4 182.1,347.4 184.3,348.0 185.5,348.1 186.9,348.1 189.3,347.6 191.7,346.7 196.2,344.9 196.7,344.8 197.3,344.8 206.9,350.3 212.7,353.3 213.1,353.6 213.4,354.1 213.6,354.8 213.4,355.6 211.1,358.6 209.0,360.9 207.7,362.0 204.8,364.3 202.9,365.5 198.8,367.8 181.7,375.8 181.8,376.1 199.4,369.2 203.9,367.1 205.8,366.1 207.6,364.9 210.5,362.5 212.8,360.2 216.6,355.8 217.4,355.3 218.1,355.3 221.4,355.7 224.1,355.7 227.7,355.4 230.0,355.3 243.7,355.9 249.0,356.4 249.7,356.9 250.2,357.6 250.7,359.6 251.2,362.7 252.1,370.4 252.1,375.1 251.8,375.9 251.2,376.4 246.4,379.3 242.2,381.4 237.9,383.3 233.6,384.9 225.5,387.6 207.4,392.2 201.5,393.8 194.8,396.0 190.2,397.7 186.0,399.6 182.2,401.8 179.9,403.4 173.7,408.4 173.9,408.6 180.6,404.3 184.1,402.3 188.0,400.6 192.3,399.0 200.3,396.6 208.1,394.9 214.7,393.6 215.4,393.7 216.2,394.1 216.6,394.9 216.7,395.6 216.1,398.3 215.4,400.6 214.3,402.7 213.5,403.9 210.5,407.7 206.8,411.4 204.2,413.7 201.8,415.7 197.8,418.3 189.6,423.0 189.7,423.3 198.3,419.2 202.5,416.8 205.2,414.9 207.9,412.7 211.8,409.0 215.2,405.3 216.9,402.7 217.6,401.4 218.5,399.0 219.9,393.4 220.3,392.8 220.7,392.5 226.5,391.2 230.8,389.9 243.8,385.5 256.9,381.5 259.6,381.6 260.8,381.7 261.6,382.1 262.1,382.9 262.2,383.6 262.0,384.3 256.3,395.8 252.6,403.7 248.3,413.5 246.7,418.0 246.1,419.2 244.8,420.9 242.5,423.0 238.3,426.5 232.5,430.6 229.9,432.7 227.5,435.1 225.3,437.9 223.1,441.1 221.0,444.5 216.1,453.3 213.4,458.7 208.3,469.8 208.5,470.0 217.7,454.1 224.1,444.1 226.2,440.9 228.4,438.2 230.6,435.8 233.0,433.8 245.3,425.6 246.0,425.5 246.6,425.7 247.2,426.1 247.5,426.7 249.9,435.2 251.5,439.9 256.7,453.3 257.0,453.3 252.9,436.1 249.8,422.3 249.8,421.6 251.0,419.3 258.1,404.4 260.4,399.9 262.9,395.6 266.3,390.1 267.1,389.5 268.1,389.3 269.9,390.0 271.4,390.3 278.3,390.6 280.1,390.9 281.6,391.3 283.1,392.1 284.2,393.1 285.3,394.7 286.3,396.3 288.0,399.9 288.1,400.6 288.0,401.4 287.5,402.1 288.2,413.3 288.2,414.5 287.7,418.1 286.3,422.9 286.0,424.9 286.1,428.0 286.7,431.2 287.5,434.4 288.6,437.5 290.0,440.8 292.2,444.8 293.2,446.5 294.3,447.8 295.3,448.7 298.1,450.7 298.3,450.5 295.8,447.3 294.8,445.6 293.1,441.9 291.8,438.7 290.8,435.6 290.1,432.6 289.7,429.7 289.6,427.7 289.6,426.0 289.9,424.5 290.5,422.4 291.4,420.5 291.8,419.9 292.5,419.6 293.2,419.6 293.8,419.8 294.3,420.2 294.6,420.7 296.2,425.7 297.8,429.5 303.6,440.0 304.0,439.9 302.1,432.6 299.5,425.5 297.3,416.5 296.6,416.4 296.0,416.1 295.5,415.6 295.4,415.1 295.4,414.4 296.0,412.5 296.2,411.5 296.4,408.7 296.7,408.2 297.0,407.8 297.8,407.4 298.7,407.4 302.3,409.4 307.1,411.2 315.6,413.9 322.4,415.7 325.6,416.4 328.9,416.8 332.3,417.0 339.0,417.2 339.0,416.8 330.3,414.9 325.2,413.4 319.2,411.2 310.2,407.4 306.6,405.7 304.2,404.2 300.6,400.9 300.3,400.5 300.1,400.0 300.1,399.4 300.3,398.9 301.1,397.9 302.5,396.6 306.3,393.8 308.0,392.0 308.8,390.9 310.3,388.6 314.0,382.0 318.5,373.3 320.1,370.9 321.4,369.7 322.4,369.2 326.6,367.8 328.9,367.6 330.0,367.0 331.6,365.7 332.2,365.5 333.5,365.5 342.1,366.4 346.8,366.6 355.2,366.4 362.2,365.8 369.1,364.7 377.5,362.9 384.4,361.1 392.8,358.4 396.1,357.4 402.9,355.9 407.9,355.1 412.8,354.6 416.2,354.5 419.7,354.7 423.4,355.1 436.2,356.8 438.5,357.5 442.5,358.8 449.4,361.3 454.7,363.7 458.0,365.5 461.4,367.8 468.1,372.9 471.5,375.3 476.7,378.4 481.8,381.2 486.9,383.6 490.4,384.8 493.9,385.8 499.0,386.9 502.4,387.3 505.9,387.5 512.8,387.3 516.2,387.0 519.6,386.4 523.1,385.4 524.9,384.8 528.4,383.3 532.1,381.3 535.7,379.0 539.0,376.7 542.0,374.6 544.6,372.5 546.9,370.3 551.0,365.9 551.6,365.6 552.3,365.5 553.0,365.6 556.0,367.0 559.7,368.9 560.3,368.9 560.8,369.2 571.5,379.4 572.9,380.4 574.4,380.9 574.8,381.2 575.3,382.0 576.8,386.9 577.7,389.2 580.6,395.1 581.7,396.9 582.5,397.8 583.3,398.4 584.2,399.0 585.4,399.4 586.7,399.5 588.1,399.3 589.4,399.0 596.7,396.7 598.3,396.4 599.7,396.3 601.1,396.4 603.9,396.8 613.3,399.1 621.3,400.4 626.1,401.0 629.2,401.1 630.7,401.0 633.6,400.4 636.5,399.5 639.2,398.3 643.4,396.2 644.9,395.4 646.5,394.0 648.6,393.5 650.2,392.7 651.5,391.4 652.0,390.2 651.9,389.6 651.7,389.1 651.3,388.7 650.7,388.4 649.3,388.2 647.5,388.6 646.1,389.3 645.1,390.4 644.5,391.4 644.4,392.7 644.2,393.2 643.8,393.7 643.1,394.2 638.5,396.6 634.6,398.2 631.8,399.0 629.2,399.3 626.2,399.2 621.6,398.7 613.7,397.3 604.3,395.0 601.2,394.6 599.6,394.5 598.0,394.6 596.3,394.9 589.0,397.3 587.8,397.6 586.7,397.7 586.0,397.6 585.0,397.4 583.8,396.5 583.1,395.7 582.1,394.2 579.7,389.4 578.6,386.4 577.2,381.7 577.2,380.9 577.5,380.3 580.0,378.3 585.2,373.6 590.1,370.3 593.3,368.4 595.6,367.3 598.2,366.4 601.2,365.6 607.9,364.3 611.0,363.4 612.4,362.9 614.8,361.7 617.0,360.3 618.9,358.8 621.3,356.5 622.6,354.8 624.1,352.3 624.9,349.7 625.3,348.2 625.4,346.7 625.1,345.5 624.5,344.1 624.4,343.4 624.5,342.8 625.2,341.7 625.2,340.9 625.1,340.5 624.7,340.1 623.5,339.4 621.7,339.2 619.8,339.6 618.3,340.5 617.8,341.0 617.4,341.5 617.3,342.1 617.4,342.5 617.7,343.0 618.2,343.4 619.4,343.9 621.2,344.0 622.0,344.4 623.1,345.9 623.5,347.0 623.3,348.5 622.9,350.1 622.4,351.6 621.7,353.0 620.0,355.2 617.7,357.4 615.9,358.8 613.9,360.1 611.7,361.2 610.5,361.7 607.5,362.5 600.8,363.9 597.7,364.7 594.9,365.7 592.5,366.8 589.2,368.7 584.0,372.2 578.7,377.0 577.0,378.3 576.1,378.7 575.2,379.0 574.3,378.9 573.6,378.6 572.6,377.9 566.6,372.0 560.2,365.0 558.3,360.6 558.1,359.8 559.5,355.5 560.9,352.5 561.5,352.0 568.9,348.3 572.6,346.3 577.9,342.7 579.9,341.2 581.7,339.5 583.5,337.6 585.3,335.2 590.7,326.0 594.0,321.1 595.8,318.9 597.6,317.2 599.7,316.0 601.9,315.3 604.1,315.0 606.1,315.2 607.8,315.8 609.4,316.6 612.3,318.1 613.4,318.9 613.9,319.4 614.1,319.9 614.3,321.4 614.7,322.5 615.4,323.3 616.4,324.1 617.6,324.4 618.8,324.4 619.8,323.8 620.4,322.9 620.6,322.0 620.4,320.9 619.9,320.0 619.0,319.1 617.7,318.5 615.8,318.2 613.7,316.8 608.5,314.2 605.8,313.3 604.0,313.2 601.4,313.5 598.9,314.4 597.2,315.3 595.8,316.3 593.7,318.5 589.2,325.0 583.7,334.2 582.1,336.4 580.4,338.3 578.7,339.8 576.9,341.3 571.7,344.7 567.6,346.7 566.7,346.7 565.9,346.2 565.5,345.5 565.4,345.0 565.5,344.4 568.0,339.5 569.0,336.9 569.8,334.5 570.2,332.2 570.4,329.0 570.3,323.0 569.4,314.0 569.2,310.3 569.5,306.7 569.8,305.4 570.3,304.1 571.4,302.0 573.1,300.0 575.1,298.1 576.3,297.2 577.4,296.6 579.2,296.2 582.4,296.2 584.9,295.9 585.4,296.0 586.7,296.6 587.9,296.7 589.2,296.4 590.2,296.0 590.8,295.5 591.4,294.8 591.6,294.1 591.6,293.4 591.4,292.8 590.9,292.3 590.1,291.9 589.3,291.7 588.0,291.8 587.1,292.1 586.2,292.6 585.1,293.6 583.8,294.0 582.2,294.3 578.4,294.5 576.9,294.8 576.1,295.2 574.6,296.2 572.4,298.1 570.5,300.3 569.4,301.9 568.7,303.3 568.1,304.8 567.7,306.4 567.4,309.1 567.5,312.7 568.4,321.8 568.6,327.9 568.4,331.9 567.7,335.2 566.9,337.5 565.1,341.3 562.2,346.3 560.0,349.6 559.7,350.0 559.1,350.3 556.0,351.0 551.8,356.1 549.0,362.0 549.4,362.5 549.6,363.2 549.6,363.9 549.3,364.4 546.4,367.8 543.3,370.9 540.8,373.0 536.3,376.2 531.1,379.5 527.6,381.5 524.2,382.9 520.9,384.0 517.6,384.7 514.2,385.2 510.9,385.4 505.9,385.5 501.0,385.1 497.7,384.6 494.4,383.9 491.0,383.0 487.7,381.7 484.4,380.2 477.7,376.6 474.3,374.6 471.0,372.5 462.6,366.2 459.1,363.9 455.6,361.9 452.0,360.2 444.8,357.5 437.3,355.0 435.2,354.6 423.6,353.1 418.1,352.6 414.5,352.5 409.3,352.9 404.2,353.6 395.6,355.4 392.2,356.4 383.8,359.2 377.1,360.9 368.7,362.7 362.0,363.7 355.1,364.4 350.1,364.5 346.9,364.2 345.5,363.9 342.9,363.0 340.4,361.8 336.2,359.6 334.7,357.2 332.1,354.1 331.5,353.1 331.0,352.0 330.7,350.7 330.5,348.3 330.8,342.0 330.8,337.5 331.2,334.2 331.5,332.9 331.9,332.0 332.4,331.5 333.2,331.1 342.8,319.3 343.7,317.9 344.2,316.8 345.0,316.0 346.9,315.0 348.1,314.5 354.9,312.4 358.9,310.9 363.2,308.8 370.3,304.5 388.3,292.1 388.1,291.8 369.2,302.7 362.0,306.3 359.8,307.2 355.8,308.6 349.8,310.0 348.9,309.9 348.2,309.5 347.7,308.7 347.6,308.0 347.9,306.8 348.5,305.1 349.3,303.6 350.2,302.3 351.4,301.2 354.2,299.1 357.4,297.5 368.5,293.0 368.4,292.8 358.2,295.6 355.5,296.6 352.5,298.0 350.7,299.1 349.3,300.2 348.0,301.6 346.9,303.1 345.9,305.1 345.2,307.2 344.4,310.7 343.9,311.4 342.0,312.4 340.6,313.4 338.5,315.4 326.8,324.8 326.6,325.8 326.1,326.4 325.7,326.6 323.5,326.8 320.7,326.7 317.8,326.4 315.0,325.8 312.4,325.0 309.6,323.9 306.8,322.6 304.3,321.1 302.0,319.2 301.0,318.0 300.3,316.6 299.8,315.1 299.4,313.5 298.7,308.2 299.3,302.0 299.5,298.0 299.4,294.8 298.8,290.7 300.2,279.7 301.3,273.1 302.0,270.1 302.6,268.4 303.2,267.5 306.3,265.2 307.5,263.8 307.9,262.9 308.4,261.0 308.7,257.8 308.8,239.8 308.5,239.8 307.3,257.7 307.1,259.8 306.8,261.5 306.4,262.4 305.7,263.4 302.1,266.1 301.4,266.8 300.9,267.6 300.4,268.6 299.8,270.6 298.3,277.9 297.8,278.7 297.1,279.1 296.4,279.2 295.7,279.0 295.3,278.7 294.9,278.1 293.5,273.6 292.3,268.8 290.6,260.6 289.7,254.6 289.5,251.7 289.9,246.1 289.7,246.1 288.4,249.8 287.7,252.4 287.5,254.8 287.7,259.2 288.2,264.4 289.0,270.8 289.7,274.5 293.4,289.6 293.8,293.5 293.7,296.7 293.1,301.6 291.9,303.5 289.2,309.9 288.4,311.1 287.0,312.6 285.4,313.9 284.0,314.6 282.8,314.8 282.1,314.8 281.4,314.5 279.9,313.4 279.1,312.5 276.8,301.9 275.8,296.0 275.3,291.6 274.9,286.9 274.1,272.5 273.0,260.3 271.8,252.0 269.9,242.5 269.7,242.6 270.5,250.9 270.8,256.2 271.2,284.5 271.6,296.3 271.5,296.8 271.2,297.4 270.7,297.9 270.2,298.1 269.5,298.1 268.9,297.9 267.8,296.9 267.4,296.3 266.0,290.3 262.2,277.9 260.7,274.4 257.3,268.2 253.2,261.5 250.1,256.9 248.7,255.3 241.9,248.3 241.7,248.5 244.5,252.9 248.3,258.2 250.2,261.4 252.7,266.2 256.2,273.1 257.9,277.1 258.9,280.1 258.9,280.7 258.7,281.3 258.0,282.1 257.2,282.4 256.5,282.3 254.6,281.6 253.3,281.0 251.6,280.0 250.0,278.7 248.5,277.3 246.7,275.0 244.8,271.7 243.4,268.4 241.9,263.4 241.7,263.4 241.7,267.4 242.0,269.5 242.6,271.8 243.8,274.9 245.0,277.1 246.5,279.1 248.1,280.8 250.5,282.8 252.6,284.1 254.8,285.2 258.3,286.7 259.3,286.6 259.8,286.7 260.2,287.1 260.7,287.8 262.1,292.6 262.7,296.4 263.0,299.5 263.5,307.6 263.2,309.5 263.0,310.9 262.4,312.8 261.2,315.5 260.0,317.0 259.0,317.8 257.8,318.4 256.1,319.2 254.7,319.5 251.9,319.7 251.2,319.6 250.8,319.3 250.3,318.7 250.2,318.0 250.3,317.3 244.8,313.8 242.0,311.7 239.1,308.7 228.3,295.9 219.9,286.5 218.0,283.9 215.2,278.9 212.6,275.6 210.4,273.3 208.6,271.8 206.7,270.5 204.6,269.4 202.3,268.6 199.8,268.0 193.5,266.7 193.5,266.9 200.7,269.5 202.9,270.4 204.8,271.5 206.5,272.7 208.0,274.1 209.5,275.6 212.6,279.6 212.8,280.3 212.8,281.0 212.5,281.4 212.1,282.0 211.4,282.2 210.7,282.3 207.0,281.1 204.5,280.7 202.0,280.6 197.8,281.1 193.4,281.9 188.1,283.3 184.8,284.5 178.6,287.4 178.8,287.6 186.2,285.0 189.7,284.1 196.6,282.9 199.5,282.6 202.1,282.6 205.3,282.9 208.3,283.8 213.8,286.2 217.6,288.5 225.7,298.1 238.1,314.2 240.6,317.2 243.7,320.5 244.0,321.3 243.9,322.3 244.0,322.5 245.1,323.4 245.6,324.2 246.0,325.9 246.0,327.7 245.5,342.2 245.5,348.2 245.6,349.9 245.3,350.9 244.7,351.5 243.6,351.7 240.5,351.9 228.7,351.9 223.8,352.5 221.6,352.6 218.9,352.3 216.0,351.5 212.2,349.9 208.2,348.0 198.0,342.6 194.3,340.4 183.7,333.3 178.1,330.1 172.2,327.2 160.1,321.8Z"/></g>
<g fill="#d6e6a3"><path d="M194.6,342.2 194.7,343.2 194.6,344.0 195.9,343.5 196.6,343.4ZM211.8,351.3 213.5,352.1 214.4,353.0 214.9,354.2 215.0,354.8 214.9,355.6 215.7,354.7 216.3,354.3 217.1,353.9 217.9,353.8 221.5,354.3 224.0,354.3 228.9,353.9 240.6,354.3 248.3,354.9 249.4,355.1 250.1,355.4 250.9,356.1 251.4,356.9 252.3,360.8 253.5,370.3 253.5,375.2 253.0,376.5 252.5,377.2 251.9,377.6 244.2,382.0 238.4,384.6 234.1,386.2 226.8,388.7 207.5,393.6 214.3,392.3 215.3,392.2 216.3,392.5 217.1,393.1 217.7,393.9 218.1,394.9 218.5,393.1 218.8,392.4 219.4,391.6 220.4,391.1 226.1,389.8 229.2,389.0 243.4,384.2 256.7,380.1 259.7,380.2 261.5,380.5 262.2,380.9 262.8,381.4 263.2,382.0 263.5,382.8 263.5,383.9 263.3,384.8 258.3,394.9 254.6,402.7 249.6,414.0 247.9,418.7 247.0,420.4 245.4,422.3 243.4,424.1 239.2,427.5 233.3,431.7 232.1,432.6 230.9,433.7 230.3,434.2 233.4,431.8 239.5,427.9 244.0,424.7 244.8,424.3 245.6,424.1 246.6,424.2 247.3,424.5 248.1,425.1 248.6,425.7 248.9,426.5 250.7,432.9 248.4,422.6 248.4,421.6 248.6,420.8 249.8,418.7 257.6,402.2 260.9,396.3 265.3,389.1 266.4,388.2 267.1,388.0 267.9,387.9 268.7,388.0 270.4,388.6 271.5,388.9 278.2,389.2 280.1,389.5 282.0,390.0 283.4,390.6 285.2,392.1 286.4,393.7 287.5,395.7 289.3,399.3 289.5,400.1 289.5,401.0 289.4,401.8 288.9,402.6 289.6,413.3 289.6,414.5 289.0,418.3 287.7,423.2 287.4,425.9 287.5,427.8 288.0,430.9 288.5,432.9 289.5,436.0 288.4,430.7 288.2,427.9 288.2,425.9 288.7,423.5 289.5,421.1 290.3,419.5 291.3,418.6 292.5,418.2 293.6,418.2 294.6,418.6 295.5,419.4 295.9,420.2 297.8,426.0 299.6,429.8 297.9,425.1 296.2,417.8 295.4,417.4 294.7,416.8 294.2,416.0 294.0,415.1 294.0,414.0 294.8,411.2 295.1,408.3 295.6,407.3 296.5,406.4 297.8,405.9 299.1,406.1 302.0,407.7 303.9,408.5 309.0,410.4 318.4,413.3 325.3,414.9 319.8,412.9 312.4,409.9 307.1,407.5 304.2,405.9 302.2,404.4 299.3,401.6 298.9,400.8 298.7,400.1 298.7,399.4 298.9,398.6 299.4,397.7 300.7,396.3 305.3,392.7 306.9,391.1 307.7,390.1 309.1,387.9 312.8,381.3 317.3,372.4 318.9,370.2 319.8,369.3 320.6,368.6 322.6,367.6 326.0,366.5 328.5,366.3 330.9,364.5 332.2,364.1 344.8,365.1 341.1,363.7 335.6,360.9 334.9,360.2 334.2,358.8 333.6,358.0 331.1,355.1 330.1,353.6 329.7,352.4 329.4,351.2 329.1,348.3 329.4,342.0 329.4,336.3 329.8,334.0 330.1,332.7 330.9,331.0 331.5,330.4 332.4,329.9 341.7,318.5 343.0,316.0 343.8,315.2 345.2,314.3 346.5,313.7 356.4,310.4 360.4,308.7 362.6,307.6 360.3,308.6 356.3,309.9 349.7,311.4 348.5,311.3 347.5,310.7 346.7,309.9 346.3,308.8 345.7,311.2 345.3,311.9 344.9,312.5 344.2,312.9 342.7,313.6 341.5,314.4 339.4,316.4 328.2,325.5 327.9,326.3 327.4,327.1 326.7,327.7 325.8,328.0 323.4,328.2 320.5,328.1 317.6,327.8 314.7,327.2 311.9,326.3 309.1,325.2 306.2,323.8 303.5,322.2 302.0,321.1 300.8,320.0 299.8,318.7 299.0,317.3 298.5,315.7 298.1,313.9 297.3,308.6 297.9,301.9 298.1,298.0 298.0,295.0 297.4,290.6 298.8,279.7 298.3,280.1 297.6,280.4 296.8,280.6 296.0,280.5 295.3,280.3 294.6,279.9 293.7,278.9 292.4,275.1 291.5,271.7 290.2,266.0 289.2,260.5 290.0,267.7 290.8,273.1 293.0,282.2 294.4,287.6 294.9,290.2 295.2,292.8 295.2,295.1 295.0,297.9 294.6,301.5 294.2,302.6 293.1,304.1 290.5,310.5 289.7,311.8 288.8,312.8 286.4,314.9 284.5,315.9 282.7,316.2 281.9,316.1 280.9,315.8 279.8,315.2 278.8,314.4 278.2,313.7 277.7,312.9 275.1,300.2 274.1,294.0 273.7,289.4 272.8,272.6 272.4,267.7 272.7,287.0 273.0,296.6 272.7,297.8 271.9,298.8 270.8,299.4 269.6,299.5 268.6,299.3 267.9,298.9 266.8,297.8 266.2,297.1 264.6,290.7 262.7,284.5 261.2,279.3 260.5,277.3 259.5,275.1 258.0,272.2 253.3,264.2 256.6,270.8 258.8,275.5 259.6,277.7 260.2,279.6 260.3,280.5 260.2,281.4 259.6,282.5 258.8,283.3 257.7,283.7 256.6,283.7 254.8,283.2 252.7,282.3 250.8,281.1 248.8,279.6 250.8,281.2 253.3,282.9 258.4,285.2 259.3,285.2 260.2,285.4 260.9,285.8 261.4,286.2 262.0,287.3 263.1,291.2 263.9,294.7 264.3,297.8 264.9,307.6 264.3,311.3 263.2,314.6 262.1,316.7 261.4,317.5 260.5,318.4 258.4,319.7 256.3,320.6 254.0,321.0 251.5,321.1 250.7,320.9 250.0,320.5 249.6,320.0 249.1,319.4 248.8,318.0 244.7,315.5 242.5,313.9 240.5,312.2 238.1,309.7 227.3,296.8 218.8,287.4 216.9,284.7 214.1,279.8 214.2,281.1 213.6,282.4 212.7,283.2 211.4,283.7 215.0,285.2 218.0,287.0 218.6,287.5 226.8,297.2 239.2,313.4 241.6,316.2 244.6,319.4 245.1,320.1 245.4,321.0 245.4,321.8 246.2,322.5 246.9,323.7 247.2,324.5 247.4,326.1 247.4,329.8 246.9,344.0 246.9,348.2 247.0,350.0 246.7,351.3 246.2,352.1 245.4,352.6 244.8,352.9 243.8,353.1 239.3,353.3 228.8,353.3 224.0,353.9 221.6,354.0 218.9,353.7 217.2,353.3 215.4,352.7ZM550.9,364.4 552.0,364.1 553.2,364.2 556.6,365.7 560.1,367.5 560.7,367.6 559.2,366.0 558.8,365.4 557.0,361.1 556.7,360.1 556.9,358.9 558.2,355.1 559.4,352.3 559.9,351.5 556.8,352.3 552.9,356.9 550.6,361.8 551.0,363.1ZM561.0,350.7 563.1,349.6 566.3,348.0 565.5,347.7 564.9,347.2 564.4,346.5 564.1,345.9ZM615.5,319.6 615.7,321.3 616.3,322.3 617.0,322.8 617.8,323.0 618.4,323.0 618.9,322.7 619.1,322.3 619.1,321.7 618.9,321.0 618.5,320.5 617.4,319.8ZM585.9,294.7 587.6,295.3 588.8,295.1 589.9,294.4 590.2,294.0 590.2,293.7 589.9,293.4 589.3,293.2 588.5,293.1 587.8,293.3 587.0,293.7ZM575.8,380.3 575.9,380.4 576.0,380.3ZM623.0,343.4 623.2,342.3 623.9,341.1 623.3,340.8 622.1,340.6 620.8,340.8 619.5,341.3 618.8,342.0 619.5,342.4 621.8,342.7ZM645.8,392.8 646.5,392.5 648.1,392.2 649.2,391.7 650.2,390.8 650.5,390.3 650.5,389.9 650.0,389.6 649.1,389.6 648.0,389.9 647.2,390.3 646.5,390.8 646.0,391.5 645.8,391.9Z"/></g>
<path d="M219.9,47.0h12M225.9,41.0v12" stroke="#e3232a" stroke-width="2.6"/><path d="M291.2,46.5h12M297.2,40.5v12" stroke="#e3232a" stroke-width="2.6"/><path d="M212.0,93.2h12M218.0,87.2v12" stroke="#e3232a" stroke-width="2.6"/><path d="M308.0,76.4h12M314.0,70.4v12" stroke="#e3232a" stroke-width="2.6"/><path d="M380.9,92.6h12M386.9,86.6v12" stroke="#e3232a" stroke-width="2.6"/><path d="M346.5,127.4h12M352.5,121.4v12" stroke="#e3232a" stroke-width="2.6"/><path d="M181.0,146.6h12M187.0,140.6v12" stroke="#e3232a" stroke-width="2.6"/><path d="M230.9,191.0h12M236.9,185.0v12" stroke="#e3232a" stroke-width="2.6"/><path d="M270.8,216.6h12M276.8,210.6v12" stroke="#e3232a" stroke-width="2.6"/><path d="M309.6,211.0h12M315.6,205.0v12" stroke="#e3232a" stroke-width="2.6"/>
<rect x="219.8" y="261.4" width="7" height="3.6" fill="#e3232a"/><rect x="291.4" y="260.2" width="7" height="3.6" fill="#e3232a"/><rect x="308.5" y="290.8" width="7" height="3.6" fill="#e3232a"/><rect x="374.1" y="289.0" width="7" height="3.6" fill="#e3232a"/><rect x="197.4" y="296.8" width="7" height="3.6" fill="#e3232a"/><rect x="346.6" y="342.1" width="7" height="3.6" fill="#e3232a"/><rect x="181.2" y="360.7" width="7" height="3.6" fill="#e3232a"/><rect x="228.3" y="366.6" width="7" height="3.6" fill="#e3232a"/><rect x="231.6" y="405.0" width="7" height="3.6" fill="#e3232a"/><rect x="341.2" y="393.2" width="7" height="3.6" fill="#e3232a"/><rect x="359.9" y="412.4" width="7" height="3.6" fill="#e3232a"/><rect x="304.3" y="446.9" width="7" height="3.6" fill="#e3232a"/>
<path d="M320.1,60.1 L331,60.1 C336,60.1 337,52 339,42 C341,31 343,26.5 345.5,26.5 C349,26.5 353,33 360,43 C367,52 377,59 393,60" fill="none" stroke="#111" stroke-width="2.8"/>
<text x="379.3" y="48.5" font-family="&quot;Liberation Sans&quot;, sans-serif" font-size="18" fill="#1b1b1b" textLength="22" lengthAdjust="spacingAndGlyphs">Vm</text>
<path d="M320.8,433.6 L331,433.6 C336,433.6 337,440 339,450 C341,461 342,466.5 345,466.5 C349,466.5 356,456 364,447 C373,438 382,433.6 393.7,433.6" fill="none" stroke="#111" stroke-width="3"/>
<text x="380.5" y="459.5" font-family="&quot;Liberation Sans&quot;, sans-serif" font-size="18" fill="#1b1b1b" textLength="21.7" lengthAdjust="spacingAndGlyphs">Vm</text>
<path d="M550.0,118.4 551.2,116.6 552.4,114.9 553.5,113.1 554.7,111.3 555.8,109.5 557.0,107.7 558.2,106.0 559.4,104.3 560.7,102.6 562.0,101.0 563.4,99.4 565.0,97.8 566.7,96.2 568.4,94.6 570.1,93.1 571.7,91.6 573.3,90.3 574.7,89.0 576.0,87.9 577.0,87.0 577.8,86.3 578.4,85.7 578.8,85.4 579.1,85.1 579.3,85.0 579.4,84.9 579.6,84.8 579.7,84.7 579.9,84.6 580.1,84.4" fill="none" stroke="#1a1a1a" stroke-width="1.8"/><path d="M587.4,78.3 L582.2,89.2 L575.8,81.5 Z" fill="#1a1a1a"/>
<path d="M579.6,144.4 580.8,143.1 582.0,141.8 583.1,140.5 584.3,139.1 585.4,137.8 586.6,136.5 587.9,135.2 589.2,134.0 590.5,133.0 592.0,132.0 593.6,131.1 595.4,130.4 597.2,129.7 599.1,129.1 601.1,128.5 603.0,128.0 604.9,127.6 606.8,127.2 608.5,126.8 610.0,126.5 611.4,126.2 612.6,126.0 613.8,125.9 614.9,125.8 615.9,125.8 616.9,125.7 617.9,125.7 618.9,125.7 619.9,125.7 620.9,125.6" fill="none" stroke="#1a1a1a" stroke-width="1.8"/><path d="M630.4,124.8 L619.9,130.7 L619.0,120.7 Z" fill="#1a1a1a"/>
<path d="M574.9,185.3 577.0,185.8 579.2,186.3 581.4,186.9 583.5,187.5 585.7,188.0 587.9,188.6 590.0,189.0 592.0,189.3 594.1,189.5 596.0,189.5 597.9,189.3 599.8,189.0 601.6,188.4 603.4,187.8 605.2,187.1 606.9,186.4 608.5,185.6 610.1,184.9 611.6,184.1 613.0,183.5 614.3,182.9 615.5,182.3 616.6,181.7 617.6,181.1 618.6,180.5 619.5,179.9 620.5,179.3 621.4,178.7 622.4,178.1 623.4,177.5" fill="none" stroke="#1a1a1a" stroke-width="1.8"/><path d="M631.6,172.8 L624.6,182.6 L619.6,174.0 Z" fill="#1a1a1a"/>
<use href="#nkN" transform="translate(244.0,119.5) rotate(-72.0) scale(0.730)"/>
<use href="#nkN" transform="translate(311.6,107.2) rotate(40.0) scale(0.730)"/>
<use href="#nkN" transform="translate(278.4,177.8) rotate(3.0) scale(0.730)"/>
<use href="#gaN" transform="translate(317.4,168.5) rotate(135.0) scale(0.680)"/>
<line x1="226.5" y1="112.5" x2="264.5" y2="126.9" stroke="#ffffff" stroke-width="2.0"/><path d="M273.4,130.3 L261.6,131.7 L265.5,121.4 Z" fill="#ffffff"/>
<line x1="323.5" y1="92.4" x2="297.7" y2="123.2" stroke="#ffffff" stroke-width="1.9"/><path d="M291.6,130.5 L294.1,118.9 L302.6,126.0 Z" fill="#ffffff"/>
<line x1="276.2" y1="194.4" x2="279.5" y2="156.6" stroke="#ffffff" stroke-width="2.0"/><path d="M280.3,147.1 L284.9,158.0 L273.9,157.1 Z" fill="#ffffff"/>
<line x1="302.3" y1="154.3" x2="332.2" y2="182.6" stroke="#111111" stroke-width="1.8"/><path d="M338.7,188.8 L328.0,185.5 L334.9,178.3 Z" fill="#111111"/>
<text x="274.3" y="143.8" font-family="&quot;Liberation Sans&quot;, sans-serif" font-size="18.5" font-weight="bold" fill="#ffffff" stroke="#ffffff" stroke-width="0.6" textLength="13.2" lengthAdjust="spacingAndGlyphs">Cl</text><rect x="289.1" y="132.1" width="5.6" height="2.0" fill="#ffffff"/>
<text x="341.8" y="204.4" font-family="&quot;Liberation Sans&quot;, sans-serif" font-size="18.0" font-weight="normal" fill="#1b1b1b" textLength="12.0" lengthAdjust="spacingAndGlyphs">Cl</text><rect x="355.4" y="193.1" width="5.6" height="1.6" fill="#1b1b1b"/>
<use href="#kcN" transform="translate(244.0,333.7) rotate(-72.0) scale(0.730)"/>
<use href="#kcN" transform="translate(311.8,321.4) rotate(40.0) scale(0.730)"/>
<use href="#kcN" transform="translate(278.7,391.7) rotate(3.0) scale(0.730)"/>
<use href="#gaN" transform="translate(317.6,383.2) rotate(135.0) scale(0.680)"/>
<line x1="264.1" y1="341.1" x2="225.2" y2="325.7" stroke="#111111" stroke-width="1.8"/><path d="M216.8,322.4 L227.9,321.4 L224.3,330.7 Z" fill="#111111"/>
<line x1="298.6" y1="338.2" x2="324.7" y2="304.8" stroke="#111111" stroke-width="1.8"/><path d="M330.2,297.7 L328.0,308.7 L320.1,302.5 Z" fill="#111111"/>
<line x1="279.3" y1="370.6" x2="276.4" y2="411.2" stroke="#111111" stroke-width="1.8"/><path d="M275.8,420.2 L271.5,409.9 L281.5,410.6 Z" fill="#111111"/>
<line x1="331.4" y1="396.3" x2="302.1" y2="368.0" stroke="#111111" stroke-width="1.8"/><path d="M295.6,361.8 L306.3,365.1 L299.3,372.3 Z" fill="#111111"/>
<text x="196.8" y="322.0" font-family="&quot;Liberation Sans&quot;, sans-serif" font-size="18.0" font-weight="normal" fill="#1b1b1b" textLength="12.0" lengthAdjust="spacingAndGlyphs">Cl</text><rect x="210.4" y="310.7" width="5.6" height="1.6" fill="#1b1b1b"/>
<text x="329.7" y="295.3" font-family="&quot;Liberation Sans&quot;, sans-serif" font-size="18.0" font-weight="normal" fill="#1b1b1b" textLength="12.0" lengthAdjust="spacingAndGlyphs">Cl</text><rect x="343.3" y="284.0" width="5.6" height="1.6" fill="#1b1b1b"/>
<text x="276.4" y="359.2" font-family="&quot;Liberation Sans&quot;, sans-serif" font-size="18.0" font-weight="normal" fill="#1b1b1b" textLength="12.0" lengthAdjust="spacingAndGlyphs">Cl</text><rect x="290.0" y="347.9" width="5.6" height="1.6" fill="#1b1b1b"/>
<text x="265.1" y="438.0" font-family="&quot;Liberation Sans&quot;, sans-serif" font-size="18.0" font-weight="normal" fill="#1b1b1b" textLength="12.0" lengthAdjust="spacingAndGlyphs">Cl</text><rect x="278.7" y="426.7" width="5.6" height="1.6" fill="#1b1b1b"/>
<use href="#nk" transform="translate(400.0,239.8) rotate(0.0) scale(1.000)"/>
<use href="#kc" transform="translate(490.3,239.3) rotate(0.0) scale(1.000)"/>
<use href="#ga" transform="translate(574.0,240.2) rotate(0.0) scale(1.000)"/>
<text x="417.3" y="245.7" font-family="&quot;Liberation Sans&quot;, sans-serif" font-size="17" fill="#1b1b1b" textLength="45" lengthAdjust="spacingAndGlyphs">NKCC1</text>
<text x="508.3" y="246" font-family="&quot;Liberation Sans&quot;, sans-serif" font-size="17" fill="#1b1b1b" textLength="35.7" lengthAdjust="spacingAndGlyphs">KCC2</text>
<text x="594.3" y="246.3" font-family="&quot;Liberation Sans&quot;, sans-serif" font-size="17" fill="#1b1b1b" textLength="38.5" lengthAdjust="spacingAndGlyphs">GABA</text>
<text x="634" y="253.5" font-family="&quot;Liberation Sans&quot;, sans-serif" font-size="8.5" fill="#1b1b1b">A</text>
<text x="641.3" y="246.3" font-family="&quot;Liberation Sans&quot;, sans-serif" font-size="17" fill="#1b1b1b" textLength="9.3" lengthAdjust="spacingAndGlyphs">R</text></g>
</svg>
</body></html>
